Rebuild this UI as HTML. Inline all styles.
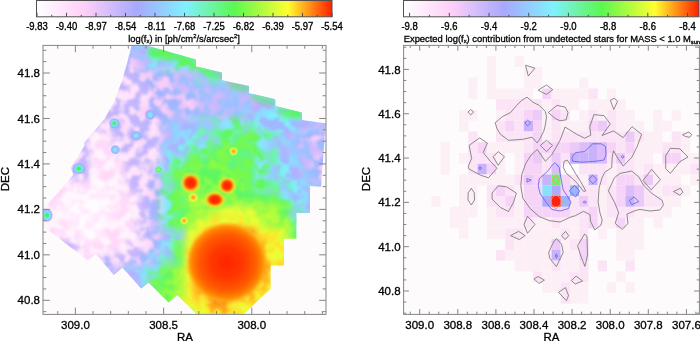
<!DOCTYPE html>
<html><head><meta charset="utf-8"><title>Figure</title>
<style>html,body{margin:0;padding:0;background:#fff;width:700px;height:341px;overflow:hidden}svg{display:block}</style>
</head><body>
<svg width="700" height="341" viewBox="0 0 700 341" font-family="Liberation Sans, Arial, Helvetica, sans-serif">
<defs><linearGradient id="ct" x1="0" x2="1" y1="0" y2="0"><stop offset="0" stop-color="#ffffff"/><stop offset="0.16" stop-color="#ffd0f8"/><stop offset="0.34" stop-color="#a8a8ff"/><stop offset="0.505" stop-color="#80f0ff"/><stop offset="0.67" stop-color="#5af850"/><stop offset="0.85" stop-color="#ffff30"/><stop offset="1.0" stop-color="#ff2000"/></linearGradient></defs>
<style>text{stroke:#000;stroke-width:0.3px}</style>
<rect x="0" y="0" width="700" height="341" fill="#ffffff"/>
<rect x="36.5" y="0.5" width="295.5" height="16.3" fill="url(#ct)" stroke="#505050" stroke-width="1"/>
<line x1="37.0" y1="16.8" x2="37.0" y2="12.8" stroke="#505050" stroke-width="1"/>
<line x1="66.5" y1="16.8" x2="66.5" y2="12.8" stroke="#505050" stroke-width="1"/>
<line x1="96.0" y1="16.8" x2="96.0" y2="12.8" stroke="#505050" stroke-width="1"/>
<line x1="125.5" y1="16.8" x2="125.5" y2="12.8" stroke="#505050" stroke-width="1"/>
<line x1="155.0" y1="16.8" x2="155.0" y2="12.8" stroke="#505050" stroke-width="1"/>
<line x1="184.5" y1="16.8" x2="184.5" y2="12.8" stroke="#505050" stroke-width="1"/>
<line x1="214.0" y1="16.8" x2="214.0" y2="12.8" stroke="#505050" stroke-width="1"/>
<line x1="243.5" y1="16.8" x2="243.5" y2="12.8" stroke="#505050" stroke-width="1"/>
<line x1="273.0" y1="16.8" x2="273.0" y2="12.8" stroke="#505050" stroke-width="1"/>
<line x1="302.5" y1="16.8" x2="302.5" y2="12.8" stroke="#505050" stroke-width="1"/>
<line x1="332.0" y1="16.8" x2="332.0" y2="12.8" stroke="#505050" stroke-width="1"/>
<line x1="51.75" y1="16.8" x2="51.75" y2="14.8" stroke="#505050" stroke-width="1"/>
<line x1="81.25" y1="16.8" x2="81.25" y2="14.8" stroke="#505050" stroke-width="1"/>
<line x1="110.75" y1="16.8" x2="110.75" y2="14.8" stroke="#505050" stroke-width="1"/>
<line x1="140.25" y1="16.8" x2="140.25" y2="14.8" stroke="#505050" stroke-width="1"/>
<line x1="169.75" y1="16.8" x2="169.75" y2="14.8" stroke="#505050" stroke-width="1"/>
<line x1="199.25" y1="16.8" x2="199.25" y2="14.8" stroke="#505050" stroke-width="1"/>
<line x1="228.75" y1="16.8" x2="228.75" y2="14.8" stroke="#505050" stroke-width="1"/>
<line x1="258.25" y1="16.8" x2="258.25" y2="14.8" stroke="#505050" stroke-width="1"/>
<line x1="287.75" y1="16.8" x2="287.75" y2="14.8" stroke="#505050" stroke-width="1"/>
<line x1="317.25" y1="16.8" x2="317.25" y2="14.8" stroke="#505050" stroke-width="1"/>
<text transform="translate(37.0,29.5) scale(1,1.2)" font-size="9.5" text-anchor="middle" fill="#000">-9.83</text>
<text transform="translate(66.5,29.5) scale(1,1.2)" font-size="9.5" text-anchor="middle" fill="#000">-9.40</text>
<text transform="translate(96.0,29.5) scale(1,1.2)" font-size="9.5" text-anchor="middle" fill="#000">-8.97</text>
<text transform="translate(125.5,29.5) scale(1,1.2)" font-size="9.5" text-anchor="middle" fill="#000">-8.54</text>
<text transform="translate(155.0,29.5) scale(1,1.2)" font-size="9.5" text-anchor="middle" fill="#000">-8.11</text>
<text transform="translate(184.5,29.5) scale(1,1.2)" font-size="9.5" text-anchor="middle" fill="#000">-7.68</text>
<text transform="translate(214.0,29.5) scale(1,1.2)" font-size="9.5" text-anchor="middle" fill="#000">-7.25</text>
<text transform="translate(243.5,29.5) scale(1,1.2)" font-size="9.5" text-anchor="middle" fill="#000">-6.82</text>
<text transform="translate(273.0,29.5) scale(1,1.2)" font-size="9.5" text-anchor="middle" fill="#000">-6.39</text>
<text transform="translate(302.5,29.5) scale(1,1.2)" font-size="9.5" text-anchor="middle" fill="#000">-5.97</text>
<text transform="translate(332.0,29.5) scale(1,1.2)" font-size="9.5" text-anchor="middle" fill="#000">-5.54</text>
<rect x="403.5" y="0.5" width="295.5" height="16.3" fill="url(#ct)" stroke="#505050" stroke-width="1"/>
<line x1="409.6" y1="16.8" x2="409.6" y2="12.8" stroke="#505050" stroke-width="1"/>
<line x1="449.3" y1="16.8" x2="449.3" y2="12.8" stroke="#505050" stroke-width="1"/>
<line x1="489.0" y1="16.8" x2="489.0" y2="12.8" stroke="#505050" stroke-width="1"/>
<line x1="528.7" y1="16.8" x2="528.7" y2="12.8" stroke="#505050" stroke-width="1"/>
<line x1="568.4000000000001" y1="16.8" x2="568.4000000000001" y2="12.8" stroke="#505050" stroke-width="1"/>
<line x1="608.1" y1="16.8" x2="608.1" y2="12.8" stroke="#505050" stroke-width="1"/>
<line x1="647.8000000000001" y1="16.8" x2="647.8000000000001" y2="12.8" stroke="#505050" stroke-width="1"/>
<line x1="687.5" y1="16.8" x2="687.5" y2="12.8" stroke="#505050" stroke-width="1"/>
<line x1="429.45000000000005" y1="16.8" x2="429.45000000000005" y2="14.8" stroke="#505050" stroke-width="1"/>
<line x1="469.15000000000003" y1="16.8" x2="469.15000000000003" y2="14.8" stroke="#505050" stroke-width="1"/>
<line x1="508.85" y1="16.8" x2="508.85" y2="14.8" stroke="#505050" stroke-width="1"/>
<line x1="548.5500000000001" y1="16.8" x2="548.5500000000001" y2="14.8" stroke="#505050" stroke-width="1"/>
<line x1="588.2500000000001" y1="16.8" x2="588.2500000000001" y2="14.8" stroke="#505050" stroke-width="1"/>
<line x1="627.95" y1="16.8" x2="627.95" y2="14.8" stroke="#505050" stroke-width="1"/>
<line x1="667.6500000000001" y1="16.8" x2="667.6500000000001" y2="14.8" stroke="#505050" stroke-width="1"/>
<text transform="translate(409.6,29.5) scale(1,1.2)" font-size="9.5" text-anchor="middle" fill="#000">-9.8</text>
<text transform="translate(449.3,29.5) scale(1,1.2)" font-size="9.5" text-anchor="middle" fill="#000">-9.6</text>
<text transform="translate(489.0,29.5) scale(1,1.2)" font-size="9.5" text-anchor="middle" fill="#000">-9.4</text>
<text transform="translate(528.7,29.5) scale(1,1.2)" font-size="9.5" text-anchor="middle" fill="#000">-9.2</text>
<text transform="translate(568.4000000000001,29.5) scale(1,1.2)" font-size="9.5" text-anchor="middle" fill="#000">-9.0</text>
<text transform="translate(608.1,29.5) scale(1,1.2)" font-size="9.5" text-anchor="middle" fill="#000">-8.8</text>
<text transform="translate(647.8000000000001,29.5) scale(1,1.2)" font-size="9.5" text-anchor="middle" fill="#000">-8.6</text>
<text transform="translate(687.5,29.5) scale(1,1.2)" font-size="9.5" text-anchor="middle" fill="#000">-8.4</text>
<text x="184" y="41.5" font-size="9.4" text-anchor="middle">log(f<tspan font-size="5.8" dy="1.8">x</tspan><tspan dy="-1.8">) in [ph/cm</tspan><tspan font-size="5.8" dy="-3.6">2</tspan><tspan dy="3.6">/s/arcsec</tspan><tspan font-size="5.8" dy="-3.6">2</tspan><tspan dy="3.6">]</tspan></text>
<text x="403.7" y="41.5" font-size="9.4">Expected log(f<tspan font-size="5.8" dy="1.8">x</tspan><tspan dy="-1.8">) contribution from undetected stars for MASS &lt; 1.0 M</tspan><tspan font-size="5.8" dy="2.2">sun</tspan></text>
<defs><clipPath id="lfoot"><polygon points="131.6,45.4 146.7,45.4 195.9,59.5 195.9,66.5 222,72.6 222,80.3 249,86 249,93.2 275.3,99.2 275.3,106 302,112.6 302,119.9 326,123.5 325.5,126 321,186.5 310,186 310,213 296.4,213 296.4,238.7 284,238.7 284,265.5 270.6,265.5 270.6,288.5 243.5,314.4 197,314.4 177.3,294.9 168.6,302.4 148.6,282.4 141.2,288.6 122.4,267.4 113.7,274.9 95.8,253.9 87.9,260.5 43,226 43,209 57.5,193.2 73.4,174.7 70.7,168 84.7,145.6 83.9,143 95,130 104.5,119 115,100 121.5,82 127.5,62"/></clipPath><clipPath id="lplot"><rect x="43.0" y="45.4" width="283.0" height="269.0"/></clipPath>
<filter id="lblur" x="-10%" y="-10%" width="120%" height="120%" color-interpolation-filters="sRGB"><feGaussianBlur stdDeviation="3.5"/></filter>
<filter id="mott" x="-10%" y="-10%" width="120%" height="120%" color-interpolation-filters="sRGB"><feGaussianBlur in="SourceGraphic" stdDeviation="3.5" result="b"/><feTurbulence type="fractalNoise" baseFrequency="0.1" numOctaves="2" seed="7" result="n"/><feColorMatrix in="n" type="matrix" values="0 0 0 0 0  0 0 0 0 0  0 0 0 0 0  5.5 0 0 0 -2.25" result="m0"/><feGaussianBlur in="m0" stdDeviation="0.8" result="m"/><feComposite in="b" in2="m" operator="in"/></filter>
<radialGradient id="rblob" cx="0.5" cy="0.5" r="0.5"><stop offset="0" stop-color="#ff2400"/><stop offset="0.4" stop-color="#ff3800"/><stop offset="0.72" stop-color="#ff5c00"/><stop offset="0.88" stop-color="#ff8400"/><stop offset="0.95" stop-color="#ffa810"/><stop offset="1" stop-color="#ffd030" stop-opacity="0.3"/></radialGradient><filter id="sblur" x="-20%" y="-20%" width="140%" height="140%"><feGaussianBlur stdDeviation="1.5"/></filter><filter id="sblur2" x="-20%" y="-50%" width="140%" height="200%"><feGaussianBlur stdDeviation="2"/></filter>
<radialGradient id="rspot" cx="0.5" cy="0.5" r="0.5"><stop offset="0" stop-color="#ff2000"/><stop offset="0.35" stop-color="#ff3000"/><stop offset="0.5" stop-color="#ff6000"/><stop offset="0.7" stop-color="#ffc020" stop-opacity="0.85"/><stop offset="1" stop-color="#f0ff40" stop-opacity="0"/></radialGradient>
<radialGradient id="gspot" cx="0.5" cy="0.5" r="0.5"><stop offset="0" stop-color="#40f050"/><stop offset="0.45" stop-color="#50f080"/><stop offset="0.75" stop-color="#80e8ff" stop-opacity="0.8"/><stop offset="1" stop-color="#a0a8ff" stop-opacity="0"/></radialGradient>
<radialGradient id="cspot" cx="0.5" cy="0.5" r="0.5"><stop offset="0" stop-color="#70f0e0"/><stop offset="0.5" stop-color="#80e0ff"/><stop offset="1" stop-color="#a0a8ff" stop-opacity="0"/></radialGradient>
<radialGradient id="yspot" cx="0.5" cy="0.5" r="0.5"><stop offset="0" stop-color="#ff9020"/><stop offset="0.3" stop-color="#ffc030"/><stop offset="0.6" stop-color="#f8f840" stop-opacity="0.8"/><stop offset="1" stop-color="#e0ff40" stop-opacity="0"/></radialGradient>
<radialGradient id="spotG"><stop offset="0" stop-color="#40f040"/><stop offset="0.3" stop-color="#58f090"/><stop offset="0.55" stop-color="#80e0ff"/><stop offset="0.8" stop-color="#a0a8ff" stop-opacity="0.9"/><stop offset="1" stop-color="#a8a8ff" stop-opacity="0"/></radialGradient>
<radialGradient id="spotC"><stop offset="0" stop-color="#80f0f0"/><stop offset="0.4" stop-color="#88d8ff"/><stop offset="0.75" stop-color="#a0a8ff" stop-opacity="0.9"/><stop offset="1" stop-color="#a8a8ff" stop-opacity="0"/></radialGradient>
<radialGradient id="spotY"><stop offset="0" stop-color="#e0ff40"/><stop offset="0.35" stop-color="#60f060"/><stop offset="0.7" stop-color="#80e8f0" stop-opacity="0.8"/><stop offset="1" stop-color="#80e8f0" stop-opacity="0"/></radialGradient>
</defs>
<rect x="43.0" y="45.4" width="283.0" height="269.0" fill="#fefbfc"/>
<g clip-path="url(#lfoot)"><g clip-path="url(#lplot)">
<g filter="url(#lblur)">
<rect x="31.0" y="33.4" width="24.1" height="24.5" fill="rgb(204, 185, 252)"/>
<rect x="54.8" y="33.4" width="12.1" height="24.5" fill="rgb(204, 185, 252)"/>
<rect x="66.6" y="33.4" width="12.1" height="24.5" fill="rgb(204, 185, 252)"/>
<rect x="78.4" y="33.4" width="12.1" height="24.5" fill="rgb(204, 185, 252)"/>
<rect x="90.2" y="33.4" width="12.1" height="24.5" fill="rgb(204, 185, 252)"/>
<rect x="102.0" y="33.4" width="12.1" height="24.5" fill="rgb(204, 185, 252)"/>
<rect x="113.8" y="33.4" width="12.1" height="24.5" fill="rgb(204, 185, 252)"/>
<rect x="125.5" y="33.4" width="12.1" height="24.5" fill="rgb(204, 185, 252)"/>
<rect x="137.3" y="33.4" width="12.1" height="24.5" fill="rgb(180, 174, 254)"/>
<rect x="149.1" y="33.4" width="12.1" height="24.5" fill="rgb(133, 231, 255)"/>
<rect x="160.9" y="33.4" width="12.1" height="24.5" fill="rgb(99, 246, 122)"/>
<rect x="172.7" y="33.4" width="12.1" height="24.5" fill="rgb(99, 246, 122)"/>
<rect x="184.5" y="33.4" width="12.1" height="24.5" fill="rgb(99, 246, 122)"/>
<rect x="196.3" y="33.4" width="12.1" height="24.5" fill="rgb(99, 246, 122)"/>
<rect x="208.1" y="33.4" width="12.1" height="24.5" fill="rgb(150, 201, 255)"/>
<rect x="219.9" y="33.4" width="12.1" height="24.5" fill="rgb(160, 183, 255)"/>
<rect x="231.7" y="33.4" width="12.1" height="24.5" fill="rgb(160, 183, 255)"/>
<rect x="243.5" y="33.4" width="12.1" height="24.5" fill="rgb(160, 183, 255)"/>
<rect x="255.2" y="33.4" width="12.1" height="24.5" fill="rgb(150, 201, 255)"/>
<rect x="267.0" y="33.4" width="12.1" height="24.5" fill="rgb(133, 231, 255)"/>
<rect x="278.8" y="33.4" width="12.1" height="24.5" fill="rgb(150, 201, 255)"/>
<rect x="290.6" y="33.4" width="12.1" height="24.5" fill="rgb(133, 231, 255)"/>
<rect x="302.4" y="33.4" width="12.1" height="24.5" fill="rgb(133, 231, 255)"/>
<rect x="314.2" y="33.4" width="24.1" height="24.5" fill="rgb(204, 185, 252)"/>
<rect x="31.0" y="57.6" width="24.1" height="12.5" fill="rgb(255, 227, 251)"/>
<rect x="54.8" y="57.6" width="12.1" height="12.5" fill="rgb(255, 227, 251)"/>
<rect x="66.6" y="57.6" width="12.1" height="12.5" fill="rgb(255, 227, 251)"/>
<rect x="78.4" y="57.6" width="12.1" height="12.5" fill="rgb(255, 227, 251)"/>
<rect x="90.2" y="57.6" width="12.1" height="12.5" fill="rgb(255, 227, 251)"/>
<rect x="102.0" y="57.6" width="12.1" height="12.5" fill="rgb(255, 227, 251)"/>
<rect x="113.8" y="57.6" width="12.1" height="12.5" fill="rgb(255, 227, 251)"/>
<rect x="125.5" y="57.6" width="12.1" height="12.5" fill="rgb(248, 205, 249)"/>
<rect x="137.3" y="57.6" width="12.1" height="12.5" fill="rgb(204, 185, 252)"/>
<rect x="149.1" y="57.6" width="12.1" height="12.5" fill="rgb(160, 183, 255)"/>
<rect x="160.9" y="57.6" width="12.1" height="12.5" fill="rgb(150, 201, 255)"/>
<rect x="172.7" y="57.6" width="12.1" height="12.5" fill="rgb(133, 231, 255)"/>
<rect x="184.5" y="57.6" width="12.1" height="12.5" fill="rgb(133, 231, 255)"/>
<rect x="196.3" y="57.6" width="12.1" height="12.5" fill="rgb(99, 246, 122)"/>
<rect x="208.1" y="57.6" width="12.1" height="12.5" fill="rgb(150, 201, 255)"/>
<rect x="219.9" y="57.6" width="12.1" height="12.5" fill="rgb(160, 183, 255)"/>
<rect x="231.7" y="57.6" width="12.1" height="12.5" fill="rgb(160, 183, 255)"/>
<rect x="243.5" y="57.6" width="12.1" height="12.5" fill="rgb(160, 183, 255)"/>
<rect x="255.2" y="57.6" width="12.1" height="12.5" fill="rgb(150, 201, 255)"/>
<rect x="267.0" y="57.6" width="12.1" height="12.5" fill="rgb(133, 231, 255)"/>
<rect x="278.8" y="57.6" width="12.1" height="12.5" fill="rgb(150, 201, 255)"/>
<rect x="290.6" y="57.6" width="12.1" height="12.5" fill="rgb(133, 231, 255)"/>
<rect x="302.4" y="57.6" width="12.1" height="12.5" fill="rgb(133, 231, 255)"/>
<rect x="314.2" y="57.6" width="24.1" height="12.5" fill="rgb(204, 185, 252)"/>
<rect x="31.0" y="69.9" width="24.1" height="12.5" fill="rgb(255, 227, 251)"/>
<rect x="54.8" y="69.9" width="12.1" height="12.5" fill="rgb(255, 227, 251)"/>
<rect x="66.6" y="69.9" width="12.1" height="12.5" fill="rgb(255, 227, 251)"/>
<rect x="78.4" y="69.9" width="12.1" height="12.5" fill="rgb(255, 227, 251)"/>
<rect x="90.2" y="69.9" width="12.1" height="12.5" fill="rgb(255, 227, 251)"/>
<rect x="102.0" y="69.9" width="12.1" height="12.5" fill="rgb(255, 227, 251)"/>
<rect x="113.8" y="69.9" width="12.1" height="12.5" fill="rgb(255, 227, 251)"/>
<rect x="125.5" y="69.9" width="12.1" height="12.5" fill="rgb(255, 227, 251)"/>
<rect x="137.3" y="69.9" width="12.1" height="12.5" fill="rgb(248, 205, 249)"/>
<rect x="149.1" y="69.9" width="12.1" height="12.5" fill="rgb(248, 205, 249)"/>
<rect x="160.9" y="69.9" width="12.1" height="12.5" fill="rgb(248, 205, 249)"/>
<rect x="172.7" y="69.9" width="12.1" height="12.5" fill="rgb(204, 185, 252)"/>
<rect x="184.5" y="69.9" width="12.1" height="12.5" fill="rgb(204, 185, 252)"/>
<rect x="196.3" y="69.9" width="12.1" height="12.5" fill="rgb(150, 201, 255)"/>
<rect x="208.1" y="69.9" width="12.1" height="12.5" fill="rgb(150, 201, 255)"/>
<rect x="219.9" y="69.9" width="12.1" height="12.5" fill="rgb(160, 183, 255)"/>
<rect x="231.7" y="69.9" width="12.1" height="12.5" fill="rgb(160, 183, 255)"/>
<rect x="243.5" y="69.9" width="12.1" height="12.5" fill="rgb(160, 183, 255)"/>
<rect x="255.2" y="69.9" width="12.1" height="12.5" fill="rgb(150, 201, 255)"/>
<rect x="267.0" y="69.9" width="12.1" height="12.5" fill="rgb(133, 231, 255)"/>
<rect x="278.8" y="69.9" width="12.1" height="12.5" fill="rgb(150, 201, 255)"/>
<rect x="290.6" y="69.9" width="12.1" height="12.5" fill="rgb(133, 231, 255)"/>
<rect x="302.4" y="69.9" width="12.1" height="12.5" fill="rgb(133, 231, 255)"/>
<rect x="314.2" y="69.9" width="24.1" height="12.5" fill="rgb(204, 185, 252)"/>
<rect x="31.0" y="82.1" width="24.1" height="12.5" fill="rgb(255, 227, 251)"/>
<rect x="54.8" y="82.1" width="12.1" height="12.5" fill="rgb(255, 227, 251)"/>
<rect x="66.6" y="82.1" width="12.1" height="12.5" fill="rgb(255, 227, 251)"/>
<rect x="78.4" y="82.1" width="12.1" height="12.5" fill="rgb(255, 227, 251)"/>
<rect x="90.2" y="82.1" width="12.1" height="12.5" fill="rgb(255, 227, 251)"/>
<rect x="102.0" y="82.1" width="12.1" height="12.5" fill="rgb(255, 227, 251)"/>
<rect x="113.8" y="82.1" width="12.1" height="12.5" fill="rgb(255, 227, 251)"/>
<rect x="125.5" y="82.1" width="12.1" height="12.5" fill="rgb(255, 227, 251)"/>
<rect x="137.3" y="82.1" width="12.1" height="12.5" fill="rgb(255, 227, 251)"/>
<rect x="149.1" y="82.1" width="12.1" height="12.5" fill="rgb(248, 205, 249)"/>
<rect x="160.9" y="82.1" width="12.1" height="12.5" fill="rgb(248, 205, 249)"/>
<rect x="172.7" y="82.1" width="12.1" height="12.5" fill="rgb(204, 185, 252)"/>
<rect x="184.5" y="82.1" width="12.1" height="12.5" fill="rgb(204, 185, 252)"/>
<rect x="196.3" y="82.1" width="12.1" height="12.5" fill="rgb(204, 185, 252)"/>
<rect x="208.1" y="82.1" width="12.1" height="12.5" fill="rgb(204, 185, 252)"/>
<rect x="219.9" y="82.1" width="12.1" height="12.5" fill="rgb(204, 185, 252)"/>
<rect x="231.7" y="82.1" width="12.1" height="12.5" fill="rgb(180, 174, 254)"/>
<rect x="243.5" y="82.1" width="12.1" height="12.5" fill="rgb(160, 183, 255)"/>
<rect x="255.2" y="82.1" width="12.1" height="12.5" fill="rgb(150, 201, 255)"/>
<rect x="267.0" y="82.1" width="12.1" height="12.5" fill="rgb(133, 231, 255)"/>
<rect x="278.8" y="82.1" width="12.1" height="12.5" fill="rgb(150, 201, 255)"/>
<rect x="290.6" y="82.1" width="12.1" height="12.5" fill="rgb(133, 231, 255)"/>
<rect x="302.4" y="82.1" width="12.1" height="12.5" fill="rgb(133, 231, 255)"/>
<rect x="314.2" y="82.1" width="24.1" height="12.5" fill="rgb(204, 185, 252)"/>
<rect x="31.0" y="94.3" width="24.1" height="12.5" fill="rgb(255, 227, 251)"/>
<rect x="54.8" y="94.3" width="12.1" height="12.5" fill="rgb(255, 227, 251)"/>
<rect x="66.6" y="94.3" width="12.1" height="12.5" fill="rgb(255, 227, 251)"/>
<rect x="78.4" y="94.3" width="12.1" height="12.5" fill="rgb(255, 227, 251)"/>
<rect x="90.2" y="94.3" width="12.1" height="12.5" fill="rgb(255, 227, 251)"/>
<rect x="102.0" y="94.3" width="12.1" height="12.5" fill="rgb(255, 227, 251)"/>
<rect x="113.8" y="94.3" width="12.1" height="12.5" fill="rgb(255, 227, 251)"/>
<rect x="125.5" y="94.3" width="12.1" height="12.5" fill="rgb(255, 227, 251)"/>
<rect x="137.3" y="94.3" width="12.1" height="12.5" fill="rgb(255, 227, 251)"/>
<rect x="149.1" y="94.3" width="12.1" height="12.5" fill="rgb(248, 205, 249)"/>
<rect x="160.9" y="94.3" width="12.1" height="12.5" fill="rgb(248, 205, 249)"/>
<rect x="172.7" y="94.3" width="12.1" height="12.5" fill="rgb(248, 205, 249)"/>
<rect x="184.5" y="94.3" width="12.1" height="12.5" fill="rgb(248, 205, 249)"/>
<rect x="196.3" y="94.3" width="12.1" height="12.5" fill="rgb(204, 185, 252)"/>
<rect x="208.1" y="94.3" width="12.1" height="12.5" fill="rgb(204, 185, 252)"/>
<rect x="219.9" y="94.3" width="12.1" height="12.5" fill="rgb(204, 185, 252)"/>
<rect x="231.7" y="94.3" width="12.1" height="12.5" fill="rgb(204, 185, 252)"/>
<rect x="243.5" y="94.3" width="12.1" height="12.5" fill="rgb(204, 185, 252)"/>
<rect x="255.2" y="94.3" width="12.1" height="12.5" fill="rgb(180, 174, 254)"/>
<rect x="267.0" y="94.3" width="12.1" height="12.5" fill="rgb(160, 183, 255)"/>
<rect x="278.8" y="94.3" width="12.1" height="12.5" fill="rgb(150, 201, 255)"/>
<rect x="290.6" y="94.3" width="12.1" height="12.5" fill="rgb(133, 231, 255)"/>
<rect x="302.4" y="94.3" width="12.1" height="12.5" fill="rgb(133, 231, 255)"/>
<rect x="314.2" y="94.3" width="24.1" height="12.5" fill="rgb(204, 185, 252)"/>
<rect x="31.0" y="106.5" width="24.1" height="12.5" fill="rgb(255, 227, 251)"/>
<rect x="54.8" y="106.5" width="12.1" height="12.5" fill="rgb(255, 227, 251)"/>
<rect x="66.6" y="106.5" width="12.1" height="12.5" fill="rgb(255, 227, 251)"/>
<rect x="78.4" y="106.5" width="12.1" height="12.5" fill="rgb(255, 227, 251)"/>
<rect x="90.2" y="106.5" width="12.1" height="12.5" fill="rgb(255, 227, 251)"/>
<rect x="102.0" y="106.5" width="12.1" height="12.5" fill="rgb(255, 227, 251)"/>
<rect x="113.8" y="106.5" width="12.1" height="12.5" fill="rgb(255, 227, 251)"/>
<rect x="125.5" y="106.5" width="12.1" height="12.5" fill="rgb(255, 227, 251)"/>
<rect x="137.3" y="106.5" width="12.1" height="12.5" fill="rgb(248, 205, 249)"/>
<rect x="149.1" y="106.5" width="12.1" height="12.5" fill="rgb(248, 205, 249)"/>
<rect x="160.9" y="106.5" width="12.1" height="12.5" fill="rgb(248, 205, 249)"/>
<rect x="172.7" y="106.5" width="12.1" height="12.5" fill="rgb(204, 185, 252)"/>
<rect x="184.5" y="106.5" width="12.1" height="12.5" fill="rgb(248, 205, 249)"/>
<rect x="196.3" y="106.5" width="12.1" height="12.5" fill="rgb(204, 185, 252)"/>
<rect x="208.1" y="106.5" width="12.1" height="12.5" fill="rgb(204, 185, 252)"/>
<rect x="219.9" y="106.5" width="12.1" height="12.5" fill="rgb(204, 185, 252)"/>
<rect x="231.7" y="106.5" width="12.1" height="12.5" fill="rgb(204, 185, 252)"/>
<rect x="243.5" y="106.5" width="12.1" height="12.5" fill="rgb(180, 174, 254)"/>
<rect x="255.2" y="106.5" width="12.1" height="12.5" fill="rgb(180, 174, 254)"/>
<rect x="267.0" y="106.5" width="12.1" height="12.5" fill="rgb(160, 183, 255)"/>
<rect x="278.8" y="106.5" width="12.1" height="12.5" fill="rgb(150, 201, 255)"/>
<rect x="290.6" y="106.5" width="12.1" height="12.5" fill="rgb(133, 231, 255)"/>
<rect x="302.4" y="106.5" width="12.1" height="12.5" fill="rgb(180, 174, 254)"/>
<rect x="314.2" y="106.5" width="24.1" height="12.5" fill="rgb(204, 185, 252)"/>
<rect x="31.0" y="118.8" width="24.1" height="12.5" fill="rgb(255, 227, 251)"/>
<rect x="54.8" y="118.8" width="12.1" height="12.5" fill="rgb(255, 227, 251)"/>
<rect x="66.6" y="118.8" width="12.1" height="12.5" fill="rgb(255, 227, 251)"/>
<rect x="78.4" y="118.8" width="12.1" height="12.5" fill="rgb(255, 227, 251)"/>
<rect x="90.2" y="118.8" width="12.1" height="12.5" fill="rgb(255, 227, 251)"/>
<rect x="102.0" y="118.8" width="12.1" height="12.5" fill="rgb(255, 227, 251)"/>
<rect x="113.8" y="118.8" width="12.1" height="12.5" fill="rgb(248, 205, 249)"/>
<rect x="125.5" y="118.8" width="12.1" height="12.5" fill="rgb(255, 227, 251)"/>
<rect x="137.3" y="118.8" width="12.1" height="12.5" fill="rgb(255, 227, 251)"/>
<rect x="149.1" y="118.8" width="12.1" height="12.5" fill="rgb(255, 227, 251)"/>
<rect x="160.9" y="118.8" width="12.1" height="12.5" fill="rgb(204, 185, 252)"/>
<rect x="172.7" y="118.8" width="12.1" height="12.5" fill="rgb(180, 174, 254)"/>
<rect x="184.5" y="118.8" width="12.1" height="12.5" fill="rgb(160, 183, 255)"/>
<rect x="196.3" y="118.8" width="12.1" height="12.5" fill="rgb(150, 201, 255)"/>
<rect x="208.1" y="118.8" width="12.1" height="12.5" fill="rgb(150, 201, 255)"/>
<rect x="219.9" y="118.8" width="12.1" height="12.5" fill="rgb(133, 231, 255)"/>
<rect x="231.7" y="118.8" width="12.1" height="12.5" fill="rgb(133, 231, 255)"/>
<rect x="243.5" y="118.8" width="12.1" height="12.5" fill="rgb(150, 201, 255)"/>
<rect x="255.2" y="118.8" width="12.1" height="12.5" fill="rgb(160, 183, 255)"/>
<rect x="267.0" y="118.8" width="12.1" height="12.5" fill="rgb(160, 183, 255)"/>
<rect x="278.8" y="118.8" width="12.1" height="12.5" fill="rgb(160, 183, 255)"/>
<rect x="290.6" y="118.8" width="12.1" height="12.5" fill="rgb(160, 183, 255)"/>
<rect x="302.4" y="118.8" width="12.1" height="12.5" fill="rgb(180, 174, 254)"/>
<rect x="314.2" y="118.8" width="24.1" height="12.5" fill="rgb(204, 185, 252)"/>
<rect x="31.0" y="131.0" width="24.1" height="12.5" fill="rgb(255, 227, 251)"/>
<rect x="54.8" y="131.0" width="12.1" height="12.5" fill="rgb(255, 227, 251)"/>
<rect x="66.6" y="131.0" width="12.1" height="12.5" fill="rgb(255, 227, 251)"/>
<rect x="78.4" y="131.0" width="12.1" height="12.5" fill="rgb(255, 227, 251)"/>
<rect x="90.2" y="131.0" width="12.1" height="12.5" fill="rgb(255, 243, 253)"/>
<rect x="102.0" y="131.0" width="12.1" height="12.5" fill="rgb(255, 243, 253)"/>
<rect x="113.8" y="131.0" width="12.1" height="12.5" fill="rgb(255, 227, 251)"/>
<rect x="125.5" y="131.0" width="12.1" height="12.5" fill="rgb(255, 227, 251)"/>
<rect x="137.3" y="131.0" width="12.1" height="12.5" fill="rgb(248, 205, 249)"/>
<rect x="149.1" y="131.0" width="12.1" height="12.5" fill="rgb(255, 227, 251)"/>
<rect x="160.9" y="131.0" width="12.1" height="12.5" fill="rgb(204, 185, 252)"/>
<rect x="172.7" y="131.0" width="12.1" height="12.5" fill="rgb(180, 174, 254)"/>
<rect x="184.5" y="131.0" width="12.1" height="12.5" fill="rgb(160, 183, 255)"/>
<rect x="196.3" y="131.0" width="12.1" height="12.5" fill="rgb(150, 201, 255)"/>
<rect x="208.1" y="131.0" width="12.1" height="12.5" fill="rgb(150, 201, 255)"/>
<rect x="219.9" y="131.0" width="12.1" height="12.5" fill="rgb(133, 231, 255)"/>
<rect x="231.7" y="131.0" width="12.1" height="12.5" fill="rgb(99, 246, 122)"/>
<rect x="243.5" y="131.0" width="12.1" height="12.5" fill="rgb(99, 246, 122)"/>
<rect x="255.2" y="131.0" width="12.1" height="12.5" fill="rgb(133, 231, 255)"/>
<rect x="267.0" y="131.0" width="12.1" height="12.5" fill="rgb(150, 201, 255)"/>
<rect x="278.8" y="131.0" width="12.1" height="12.5" fill="rgb(180, 174, 254)"/>
<rect x="290.6" y="131.0" width="12.1" height="12.5" fill="rgb(204, 185, 252)"/>
<rect x="302.4" y="131.0" width="12.1" height="12.5" fill="rgb(248, 205, 249)"/>
<rect x="314.2" y="131.0" width="24.1" height="12.5" fill="rgb(248, 205, 249)"/>
<rect x="31.0" y="143.2" width="24.1" height="12.5" fill="rgb(255, 227, 251)"/>
<rect x="54.8" y="143.2" width="12.1" height="12.5" fill="rgb(255, 227, 251)"/>
<rect x="66.6" y="143.2" width="12.1" height="12.5" fill="rgb(255, 227, 251)"/>
<rect x="78.4" y="143.2" width="12.1" height="12.5" fill="rgb(255, 227, 251)"/>
<rect x="90.2" y="143.2" width="12.1" height="12.5" fill="rgb(255, 243, 253)"/>
<rect x="102.0" y="143.2" width="12.1" height="12.5" fill="rgb(255, 243, 253)"/>
<rect x="113.8" y="143.2" width="12.1" height="12.5" fill="rgb(255, 227, 251)"/>
<rect x="125.5" y="143.2" width="12.1" height="12.5" fill="rgb(255, 227, 251)"/>
<rect x="137.3" y="143.2" width="12.1" height="12.5" fill="rgb(255, 227, 251)"/>
<rect x="149.1" y="143.2" width="12.1" height="12.5" fill="rgb(255, 227, 251)"/>
<rect x="160.9" y="143.2" width="12.1" height="12.5" fill="rgb(180, 174, 254)"/>
<rect x="172.7" y="143.2" width="12.1" height="12.5" fill="rgb(160, 183, 255)"/>
<rect x="184.5" y="143.2" width="12.1" height="12.5" fill="rgb(150, 201, 255)"/>
<rect x="196.3" y="143.2" width="12.1" height="12.5" fill="rgb(133, 231, 255)"/>
<rect x="208.1" y="143.2" width="12.1" height="12.5" fill="rgb(99, 246, 122)"/>
<rect x="219.9" y="143.2" width="12.1" height="12.5" fill="rgb(93, 247, 96)"/>
<rect x="231.7" y="143.2" width="12.1" height="12.5" fill="rgb(99, 246, 122)"/>
<rect x="243.5" y="143.2" width="12.1" height="12.5" fill="rgb(99, 246, 122)"/>
<rect x="255.2" y="143.2" width="12.1" height="12.5" fill="rgb(133, 231, 255)"/>
<rect x="267.0" y="143.2" width="12.1" height="12.5" fill="rgb(150, 201, 255)"/>
<rect x="278.8" y="143.2" width="12.1" height="12.5" fill="rgb(180, 174, 254)"/>
<rect x="290.6" y="143.2" width="12.1" height="12.5" fill="rgb(204, 185, 252)"/>
<rect x="302.4" y="143.2" width="12.1" height="12.5" fill="rgb(204, 185, 252)"/>
<rect x="314.2" y="143.2" width="24.1" height="12.5" fill="rgb(204, 185, 252)"/>
<rect x="31.0" y="155.4" width="24.1" height="12.5" fill="rgb(255, 227, 251)"/>
<rect x="54.8" y="155.4" width="12.1" height="12.5" fill="rgb(255, 227, 251)"/>
<rect x="66.6" y="155.4" width="12.1" height="12.5" fill="rgb(255, 227, 251)"/>
<rect x="78.4" y="155.4" width="12.1" height="12.5" fill="rgb(255, 227, 251)"/>
<rect x="90.2" y="155.4" width="12.1" height="12.5" fill="rgb(255, 243, 253)"/>
<rect x="102.0" y="155.4" width="12.1" height="12.5" fill="rgb(255, 243, 253)"/>
<rect x="113.8" y="155.4" width="12.1" height="12.5" fill="rgb(255, 243, 253)"/>
<rect x="125.5" y="155.4" width="12.1" height="12.5" fill="rgb(255, 227, 251)"/>
<rect x="137.3" y="155.4" width="12.1" height="12.5" fill="rgb(255, 227, 251)"/>
<rect x="149.1" y="155.4" width="12.1" height="12.5" fill="rgb(255, 227, 251)"/>
<rect x="160.9" y="155.4" width="12.1" height="12.5" fill="rgb(160, 183, 255)"/>
<rect x="172.7" y="155.4" width="12.1" height="12.5" fill="rgb(133, 231, 255)"/>
<rect x="184.5" y="155.4" width="12.1" height="12.5" fill="rgb(99, 246, 122)"/>
<rect x="196.3" y="155.4" width="12.1" height="12.5" fill="rgb(99, 246, 122)"/>
<rect x="208.1" y="155.4" width="12.1" height="12.5" fill="rgb(93, 247, 96)"/>
<rect x="219.9" y="155.4" width="12.1" height="12.5" fill="rgb(99, 246, 122)"/>
<rect x="231.7" y="155.4" width="12.1" height="12.5" fill="rgb(99, 246, 122)"/>
<rect x="243.5" y="155.4" width="12.1" height="12.5" fill="rgb(99, 246, 122)"/>
<rect x="255.2" y="155.4" width="12.1" height="12.5" fill="rgb(133, 231, 255)"/>
<rect x="267.0" y="155.4" width="12.1" height="12.5" fill="rgb(150, 201, 255)"/>
<rect x="278.8" y="155.4" width="12.1" height="12.5" fill="rgb(160, 183, 255)"/>
<rect x="290.6" y="155.4" width="12.1" height="12.5" fill="rgb(180, 174, 254)"/>
<rect x="302.4" y="155.4" width="12.1" height="12.5" fill="rgb(204, 185, 252)"/>
<rect x="314.2" y="155.4" width="24.1" height="12.5" fill="rgb(248, 205, 249)"/>
<rect x="31.0" y="167.7" width="24.1" height="12.5" fill="rgb(255, 227, 251)"/>
<rect x="54.8" y="167.7" width="12.1" height="12.5" fill="rgb(255, 227, 251)"/>
<rect x="66.6" y="167.7" width="12.1" height="12.5" fill="rgb(255, 227, 251)"/>
<rect x="78.4" y="167.7" width="12.1" height="12.5" fill="rgb(255, 227, 251)"/>
<rect x="90.2" y="167.7" width="12.1" height="12.5" fill="rgb(255, 243, 253)"/>
<rect x="102.0" y="167.7" width="12.1" height="12.5" fill="rgb(255, 243, 253)"/>
<rect x="113.8" y="167.7" width="12.1" height="12.5" fill="rgb(255, 243, 253)"/>
<rect x="125.5" y="167.7" width="12.1" height="12.5" fill="rgb(255, 227, 251)"/>
<rect x="137.3" y="167.7" width="12.1" height="12.5" fill="rgb(255, 227, 251)"/>
<rect x="149.1" y="167.7" width="12.1" height="12.5" fill="rgb(255, 227, 251)"/>
<rect x="160.9" y="167.7" width="12.1" height="12.5" fill="rgb(150, 201, 255)"/>
<rect x="172.7" y="167.7" width="12.1" height="12.5" fill="rgb(99, 246, 122)"/>
<rect x="184.5" y="167.7" width="12.1" height="12.5" fill="rgb(93, 247, 96)"/>
<rect x="196.3" y="167.7" width="12.1" height="12.5" fill="rgb(93, 247, 96)"/>
<rect x="208.1" y="167.7" width="12.1" height="12.5" fill="rgb(93, 247, 96)"/>
<rect x="219.9" y="167.7" width="12.1" height="12.5" fill="rgb(93, 247, 96)"/>
<rect x="231.7" y="167.7" width="12.1" height="12.5" fill="rgb(99, 246, 122)"/>
<rect x="243.5" y="167.7" width="12.1" height="12.5" fill="rgb(99, 246, 122)"/>
<rect x="255.2" y="167.7" width="12.1" height="12.5" fill="rgb(133, 231, 255)"/>
<rect x="267.0" y="167.7" width="12.1" height="12.5" fill="rgb(150, 201, 255)"/>
<rect x="278.8" y="167.7" width="12.1" height="12.5" fill="rgb(160, 183, 255)"/>
<rect x="290.6" y="167.7" width="12.1" height="12.5" fill="rgb(180, 174, 254)"/>
<rect x="302.4" y="167.7" width="12.1" height="12.5" fill="rgb(204, 185, 252)"/>
<rect x="314.2" y="167.7" width="24.1" height="12.5" fill="rgb(248, 205, 249)"/>
<rect x="31.0" y="179.9" width="24.1" height="12.5" fill="rgb(255, 243, 253)"/>
<rect x="54.8" y="179.9" width="12.1" height="12.5" fill="rgb(255, 243, 253)"/>
<rect x="66.6" y="179.9" width="12.1" height="12.5" fill="rgb(255, 243, 253)"/>
<rect x="78.4" y="179.9" width="12.1" height="12.5" fill="rgb(255, 243, 253)"/>
<rect x="90.2" y="179.9" width="12.1" height="12.5" fill="rgb(255, 252, 255)"/>
<rect x="102.0" y="179.9" width="12.1" height="12.5" fill="rgb(255, 243, 253)"/>
<rect x="113.8" y="179.9" width="12.1" height="12.5" fill="rgb(255, 243, 253)"/>
<rect x="125.5" y="179.9" width="12.1" height="12.5" fill="rgb(255, 227, 251)"/>
<rect x="137.3" y="179.9" width="12.1" height="12.5" fill="rgb(255, 227, 251)"/>
<rect x="149.1" y="179.9" width="12.1" height="12.5" fill="rgb(248, 205, 249)"/>
<rect x="160.9" y="179.9" width="12.1" height="12.5" fill="rgb(150, 201, 255)"/>
<rect x="172.7" y="179.9" width="12.1" height="12.5" fill="rgb(99, 246, 122)"/>
<rect x="184.5" y="179.9" width="12.1" height="12.5" fill="rgb(145, 250, 69)"/>
<rect x="196.3" y="179.9" width="12.1" height="12.5" fill="rgb(93, 247, 96)"/>
<rect x="208.1" y="179.9" width="12.1" height="12.5" fill="rgb(93, 247, 96)"/>
<rect x="219.9" y="179.9" width="12.1" height="12.5" fill="rgb(145, 250, 69)"/>
<rect x="231.7" y="179.9" width="12.1" height="12.5" fill="rgb(93, 247, 96)"/>
<rect x="243.5" y="179.9" width="12.1" height="12.5" fill="rgb(99, 246, 122)"/>
<rect x="255.2" y="179.9" width="12.1" height="12.5" fill="rgb(133, 231, 255)"/>
<rect x="267.0" y="179.9" width="12.1" height="12.5" fill="rgb(150, 201, 255)"/>
<rect x="278.8" y="179.9" width="12.1" height="12.5" fill="rgb(150, 201, 255)"/>
<rect x="290.6" y="179.9" width="12.1" height="12.5" fill="rgb(160, 183, 255)"/>
<rect x="302.4" y="179.9" width="12.1" height="12.5" fill="rgb(180, 174, 254)"/>
<rect x="314.2" y="179.9" width="24.1" height="12.5" fill="rgb(204, 185, 252)"/>
<rect x="31.0" y="192.1" width="24.1" height="12.5" fill="rgb(255, 243, 253)"/>
<rect x="54.8" y="192.1" width="12.1" height="12.5" fill="rgb(255, 243, 253)"/>
<rect x="66.6" y="192.1" width="12.1" height="12.5" fill="rgb(255, 252, 255)"/>
<rect x="78.4" y="192.1" width="12.1" height="12.5" fill="rgb(255, 252, 255)"/>
<rect x="90.2" y="192.1" width="12.1" height="12.5" fill="rgb(255, 252, 255)"/>
<rect x="102.0" y="192.1" width="12.1" height="12.5" fill="rgb(255, 252, 255)"/>
<rect x="113.8" y="192.1" width="12.1" height="12.5" fill="rgb(255, 243, 253)"/>
<rect x="125.5" y="192.1" width="12.1" height="12.5" fill="rgb(255, 243, 253)"/>
<rect x="137.3" y="192.1" width="12.1" height="12.5" fill="rgb(255, 227, 251)"/>
<rect x="149.1" y="192.1" width="12.1" height="12.5" fill="rgb(248, 205, 249)"/>
<rect x="160.9" y="192.1" width="12.1" height="12.5" fill="rgb(133, 231, 255)"/>
<rect x="172.7" y="192.1" width="12.1" height="12.5" fill="rgb(99, 246, 122)"/>
<rect x="184.5" y="192.1" width="12.1" height="12.5" fill="rgb(145, 250, 69)"/>
<rect x="196.3" y="192.1" width="12.1" height="12.5" fill="rgb(145, 250, 69)"/>
<rect x="208.1" y="192.1" width="12.1" height="12.5" fill="rgb(145, 250, 69)"/>
<rect x="219.9" y="192.1" width="12.1" height="12.5" fill="rgb(93, 247, 96)"/>
<rect x="231.7" y="192.1" width="12.1" height="12.5" fill="rgb(93, 247, 96)"/>
<rect x="243.5" y="192.1" width="12.1" height="12.5" fill="rgb(93, 247, 96)"/>
<rect x="255.2" y="192.1" width="12.1" height="12.5" fill="rgb(93, 247, 96)"/>
<rect x="267.0" y="192.1" width="12.1" height="12.5" fill="rgb(99, 246, 122)"/>
<rect x="278.8" y="192.1" width="12.1" height="12.5" fill="rgb(133, 231, 255)"/>
<rect x="290.6" y="192.1" width="12.1" height="12.5" fill="rgb(160, 183, 255)"/>
<rect x="302.4" y="192.1" width="12.1" height="12.5" fill="rgb(180, 174, 254)"/>
<rect x="314.2" y="192.1" width="24.1" height="12.5" fill="rgb(180, 174, 254)"/>
<rect x="31.0" y="204.4" width="24.1" height="12.5" fill="rgb(255, 243, 253)"/>
<rect x="54.8" y="204.4" width="12.1" height="12.5" fill="rgb(255, 252, 255)"/>
<rect x="66.6" y="204.4" width="12.1" height="12.5" fill="rgb(255, 252, 255)"/>
<rect x="78.4" y="204.4" width="12.1" height="12.5" fill="rgb(255, 252, 255)"/>
<rect x="90.2" y="204.4" width="12.1" height="12.5" fill="rgb(255, 252, 255)"/>
<rect x="102.0" y="204.4" width="12.1" height="12.5" fill="rgb(255, 252, 255)"/>
<rect x="113.8" y="204.4" width="12.1" height="12.5" fill="rgb(255, 243, 253)"/>
<rect x="125.5" y="204.4" width="12.1" height="12.5" fill="rgb(255, 243, 253)"/>
<rect x="137.3" y="204.4" width="12.1" height="12.5" fill="rgb(255, 227, 251)"/>
<rect x="149.1" y="204.4" width="12.1" height="12.5" fill="rgb(248, 205, 249)"/>
<rect x="160.9" y="204.4" width="12.1" height="12.5" fill="rgb(133, 231, 255)"/>
<rect x="172.7" y="204.4" width="12.1" height="12.5" fill="rgb(99, 246, 122)"/>
<rect x="184.5" y="204.4" width="12.1" height="12.5" fill="rgb(93, 247, 96)"/>
<rect x="196.3" y="204.4" width="12.1" height="12.5" fill="rgb(145, 250, 69)"/>
<rect x="208.1" y="204.4" width="12.1" height="12.5" fill="rgb(145, 250, 69)"/>
<rect x="219.9" y="204.4" width="12.1" height="12.5" fill="rgb(200, 253, 59)"/>
<rect x="231.7" y="204.4" width="12.1" height="12.5" fill="rgb(200, 253, 59)"/>
<rect x="243.5" y="204.4" width="12.1" height="12.5" fill="rgb(200, 253, 59)"/>
<rect x="255.2" y="204.4" width="12.1" height="12.5" fill="rgb(145, 250, 69)"/>
<rect x="267.0" y="204.4" width="12.1" height="12.5" fill="rgb(145, 250, 69)"/>
<rect x="278.8" y="204.4" width="12.1" height="12.5" fill="rgb(93, 247, 96)"/>
<rect x="290.6" y="204.4" width="12.1" height="12.5" fill="rgb(150, 201, 255)"/>
<rect x="302.4" y="204.4" width="12.1" height="12.5" fill="rgb(180, 174, 254)"/>
<rect x="314.2" y="204.4" width="24.1" height="12.5" fill="rgb(180, 174, 254)"/>
<rect x="31.0" y="216.6" width="24.1" height="12.5" fill="rgb(255, 243, 253)"/>
<rect x="54.8" y="216.6" width="12.1" height="12.5" fill="rgb(255, 243, 253)"/>
<rect x="66.6" y="216.6" width="12.1" height="12.5" fill="rgb(255, 252, 255)"/>
<rect x="78.4" y="216.6" width="12.1" height="12.5" fill="rgb(255, 252, 255)"/>
<rect x="90.2" y="216.6" width="12.1" height="12.5" fill="rgb(255, 252, 255)"/>
<rect x="102.0" y="216.6" width="12.1" height="12.5" fill="rgb(255, 243, 253)"/>
<rect x="113.8" y="216.6" width="12.1" height="12.5" fill="rgb(255, 243, 253)"/>
<rect x="125.5" y="216.6" width="12.1" height="12.5" fill="rgb(255, 243, 253)"/>
<rect x="137.3" y="216.6" width="12.1" height="12.5" fill="rgb(255, 227, 251)"/>
<rect x="149.1" y="216.6" width="12.1" height="12.5" fill="rgb(204, 185, 252)"/>
<rect x="160.9" y="216.6" width="12.1" height="12.5" fill="rgb(133, 231, 255)"/>
<rect x="172.7" y="216.6" width="12.1" height="12.5" fill="rgb(99, 246, 122)"/>
<rect x="184.5" y="216.6" width="12.1" height="12.5" fill="rgb(145, 250, 69)"/>
<rect x="196.3" y="216.6" width="12.1" height="12.5" fill="rgb(200, 253, 59)"/>
<rect x="208.1" y="216.6" width="12.1" height="12.5" fill="rgb(237, 254, 52)"/>
<rect x="219.9" y="216.6" width="12.1" height="12.5" fill="rgb(237, 254, 52)"/>
<rect x="231.7" y="216.6" width="12.1" height="12.5" fill="rgb(237, 254, 52)"/>
<rect x="243.5" y="216.6" width="12.1" height="12.5" fill="rgb(200, 253, 59)"/>
<rect x="255.2" y="216.6" width="12.1" height="12.5" fill="rgb(200, 253, 59)"/>
<rect x="267.0" y="216.6" width="12.1" height="12.5" fill="rgb(145, 250, 69)"/>
<rect x="278.8" y="216.6" width="12.1" height="12.5" fill="rgb(145, 250, 69)"/>
<rect x="290.6" y="216.6" width="12.1" height="12.5" fill="rgb(133, 231, 255)"/>
<rect x="302.4" y="216.6" width="12.1" height="12.5" fill="rgb(180, 174, 254)"/>
<rect x="314.2" y="216.6" width="24.1" height="12.5" fill="rgb(180, 174, 254)"/>
<rect x="31.0" y="228.8" width="24.1" height="12.5" fill="rgb(255, 243, 253)"/>
<rect x="54.8" y="228.8" width="12.1" height="12.5" fill="rgb(255, 243, 253)"/>
<rect x="66.6" y="228.8" width="12.1" height="12.5" fill="rgb(255, 243, 253)"/>
<rect x="78.4" y="228.8" width="12.1" height="12.5" fill="rgb(255, 252, 255)"/>
<rect x="90.2" y="228.8" width="12.1" height="12.5" fill="rgb(255, 252, 255)"/>
<rect x="102.0" y="228.8" width="12.1" height="12.5" fill="rgb(255, 243, 253)"/>
<rect x="113.8" y="228.8" width="12.1" height="12.5" fill="rgb(255, 243, 253)"/>
<rect x="125.5" y="228.8" width="12.1" height="12.5" fill="rgb(255, 243, 253)"/>
<rect x="137.3" y="228.8" width="12.1" height="12.5" fill="rgb(255, 227, 251)"/>
<rect x="149.1" y="228.8" width="12.1" height="12.5" fill="rgb(248, 205, 249)"/>
<rect x="160.9" y="228.8" width="12.1" height="12.5" fill="rgb(180, 174, 254)"/>
<rect x="172.7" y="228.8" width="12.1" height="12.5" fill="rgb(150, 201, 255)"/>
<rect x="184.5" y="228.8" width="12.1" height="12.5" fill="rgb(200, 253, 59)"/>
<rect x="196.3" y="228.8" width="12.1" height="12.5" fill="rgb(237, 254, 52)"/>
<rect x="208.1" y="228.8" width="12.1" height="12.5" fill="rgb(255, 225, 42)"/>
<rect x="219.9" y="228.8" width="12.1" height="12.5" fill="rgb(255, 166, 29)"/>
<rect x="231.7" y="228.8" width="12.1" height="12.5" fill="rgb(255, 166, 29)"/>
<rect x="243.5" y="228.8" width="12.1" height="12.5" fill="rgb(255, 166, 29)"/>
<rect x="255.2" y="228.8" width="12.1" height="12.5" fill="rgb(237, 254, 52)"/>
<rect x="267.0" y="228.8" width="12.1" height="12.5" fill="rgb(237, 254, 52)"/>
<rect x="278.8" y="228.8" width="12.1" height="12.5" fill="rgb(200, 253, 59)"/>
<rect x="290.6" y="228.8" width="12.1" height="12.5" fill="rgb(93, 247, 96)"/>
<rect x="302.4" y="228.8" width="12.1" height="12.5" fill="rgb(93, 247, 96)"/>
<rect x="314.2" y="228.8" width="24.1" height="12.5" fill="rgb(93, 247, 96)"/>
<rect x="31.0" y="241.0" width="24.1" height="12.5" fill="rgb(255, 227, 251)"/>
<rect x="54.8" y="241.0" width="12.1" height="12.5" fill="rgb(255, 227, 251)"/>
<rect x="66.6" y="241.0" width="12.1" height="12.5" fill="rgb(255, 227, 251)"/>
<rect x="78.4" y="241.0" width="12.1" height="12.5" fill="rgb(255, 243, 253)"/>
<rect x="90.2" y="241.0" width="12.1" height="12.5" fill="rgb(255, 243, 253)"/>
<rect x="102.0" y="241.0" width="12.1" height="12.5" fill="rgb(255, 243, 253)"/>
<rect x="113.8" y="241.0" width="12.1" height="12.5" fill="rgb(255, 243, 253)"/>
<rect x="125.5" y="241.0" width="12.1" height="12.5" fill="rgb(255, 227, 251)"/>
<rect x="137.3" y="241.0" width="12.1" height="12.5" fill="rgb(255, 227, 251)"/>
<rect x="149.1" y="241.0" width="12.1" height="12.5" fill="rgb(248, 205, 249)"/>
<rect x="160.9" y="241.0" width="12.1" height="12.5" fill="rgb(160, 183, 255)"/>
<rect x="172.7" y="241.0" width="12.1" height="12.5" fill="rgb(99, 246, 122)"/>
<rect x="184.5" y="241.0" width="12.1" height="12.5" fill="rgb(237, 254, 52)"/>
<rect x="196.3" y="241.0" width="12.1" height="12.5" fill="rgb(255, 225, 42)"/>
<rect x="208.1" y="241.0" width="12.1" height="12.5" fill="rgb(255, 166, 29)"/>
<rect x="219.9" y="241.0" width="12.1" height="12.5" fill="rgb(255, 121, 19)"/>
<rect x="231.7" y="241.0" width="12.1" height="12.5" fill="rgb(255, 121, 19)"/>
<rect x="243.5" y="241.0" width="12.1" height="12.5" fill="rgb(255, 121, 19)"/>
<rect x="255.2" y="241.0" width="12.1" height="12.5" fill="rgb(255, 225, 42)"/>
<rect x="267.0" y="241.0" width="12.1" height="12.5" fill="rgb(237, 254, 52)"/>
<rect x="278.8" y="241.0" width="12.1" height="12.5" fill="rgb(237, 254, 52)"/>
<rect x="290.6" y="241.0" width="12.1" height="12.5" fill="rgb(200, 253, 59)"/>
<rect x="302.4" y="241.0" width="12.1" height="12.5" fill="rgb(200, 253, 59)"/>
<rect x="314.2" y="241.0" width="24.1" height="12.5" fill="rgb(200, 253, 59)"/>
<rect x="31.0" y="253.3" width="24.1" height="12.5" fill="rgb(255, 227, 251)"/>
<rect x="54.8" y="253.3" width="12.1" height="12.5" fill="rgb(255, 227, 251)"/>
<rect x="66.6" y="253.3" width="12.1" height="12.5" fill="rgb(255, 227, 251)"/>
<rect x="78.4" y="253.3" width="12.1" height="12.5" fill="rgb(255, 243, 253)"/>
<rect x="90.2" y="253.3" width="12.1" height="12.5" fill="rgb(255, 243, 253)"/>
<rect x="102.0" y="253.3" width="12.1" height="12.5" fill="rgb(248, 205, 249)"/>
<rect x="113.8" y="253.3" width="12.1" height="12.5" fill="rgb(255, 227, 251)"/>
<rect x="125.5" y="253.3" width="12.1" height="12.5" fill="rgb(255, 227, 251)"/>
<rect x="137.3" y="253.3" width="12.1" height="12.5" fill="rgb(248, 205, 249)"/>
<rect x="149.1" y="253.3" width="12.1" height="12.5" fill="rgb(160, 183, 255)"/>
<rect x="160.9" y="253.3" width="12.1" height="12.5" fill="rgb(150, 201, 255)"/>
<rect x="172.7" y="253.3" width="12.1" height="12.5" fill="rgb(99, 246, 122)"/>
<rect x="184.5" y="253.3" width="12.1" height="12.5" fill="rgb(237, 254, 52)"/>
<rect x="196.3" y="253.3" width="12.1" height="12.5" fill="rgb(255, 166, 29)"/>
<rect x="208.1" y="253.3" width="12.1" height="12.5" fill="rgb(255, 121, 19)"/>
<rect x="219.9" y="253.3" width="12.1" height="12.5" fill="rgb(255, 62, 6)"/>
<rect x="231.7" y="253.3" width="12.1" height="12.5" fill="rgb(255, 62, 6)"/>
<rect x="243.5" y="253.3" width="12.1" height="12.5" fill="rgb(255, 121, 19)"/>
<rect x="255.2" y="253.3" width="12.1" height="12.5" fill="rgb(255, 225, 42)"/>
<rect x="267.0" y="253.3" width="12.1" height="12.5" fill="rgb(237, 254, 52)"/>
<rect x="278.8" y="253.3" width="12.1" height="12.5" fill="rgb(237, 254, 52)"/>
<rect x="290.6" y="253.3" width="12.1" height="12.5" fill="rgb(200, 253, 59)"/>
<rect x="302.4" y="253.3" width="12.1" height="12.5" fill="rgb(200, 253, 59)"/>
<rect x="314.2" y="253.3" width="24.1" height="12.5" fill="rgb(200, 253, 59)"/>
<rect x="31.0" y="265.5" width="24.1" height="12.5" fill="rgb(255, 227, 251)"/>
<rect x="54.8" y="265.5" width="12.1" height="12.5" fill="rgb(255, 227, 251)"/>
<rect x="66.6" y="265.5" width="12.1" height="12.5" fill="rgb(255, 227, 251)"/>
<rect x="78.4" y="265.5" width="12.1" height="12.5" fill="rgb(255, 243, 253)"/>
<rect x="90.2" y="265.5" width="12.1" height="12.5" fill="rgb(255, 227, 251)"/>
<rect x="102.0" y="265.5" width="12.1" height="12.5" fill="rgb(255, 227, 251)"/>
<rect x="113.8" y="265.5" width="12.1" height="12.5" fill="rgb(204, 185, 252)"/>
<rect x="125.5" y="265.5" width="12.1" height="12.5" fill="rgb(180, 174, 254)"/>
<rect x="137.3" y="265.5" width="12.1" height="12.5" fill="rgb(160, 183, 255)"/>
<rect x="149.1" y="265.5" width="12.1" height="12.5" fill="rgb(133, 231, 255)"/>
<rect x="160.9" y="265.5" width="12.1" height="12.5" fill="rgb(93, 247, 96)"/>
<rect x="172.7" y="265.5" width="12.1" height="12.5" fill="rgb(145, 250, 69)"/>
<rect x="184.5" y="265.5" width="12.1" height="12.5" fill="rgb(237, 254, 52)"/>
<rect x="196.3" y="265.5" width="12.1" height="12.5" fill="rgb(255, 225, 42)"/>
<rect x="208.1" y="265.5" width="12.1" height="12.5" fill="rgb(255, 166, 29)"/>
<rect x="219.9" y="265.5" width="12.1" height="12.5" fill="rgb(255, 62, 6)"/>
<rect x="231.7" y="265.5" width="12.1" height="12.5" fill="rgb(255, 62, 6)"/>
<rect x="243.5" y="265.5" width="12.1" height="12.5" fill="rgb(255, 121, 19)"/>
<rect x="255.2" y="265.5" width="12.1" height="12.5" fill="rgb(255, 166, 29)"/>
<rect x="267.0" y="265.5" width="12.1" height="12.5" fill="rgb(255, 225, 42)"/>
<rect x="278.8" y="265.5" width="12.1" height="12.5" fill="rgb(237, 254, 52)"/>
<rect x="290.6" y="265.5" width="12.1" height="12.5" fill="rgb(237, 254, 52)"/>
<rect x="302.4" y="265.5" width="12.1" height="12.5" fill="rgb(237, 254, 52)"/>
<rect x="314.2" y="265.5" width="24.1" height="12.5" fill="rgb(237, 254, 52)"/>
<rect x="31.0" y="277.7" width="24.1" height="12.5" fill="rgb(255, 227, 251)"/>
<rect x="54.8" y="277.7" width="12.1" height="12.5" fill="rgb(255, 227, 251)"/>
<rect x="66.6" y="277.7" width="12.1" height="12.5" fill="rgb(255, 227, 251)"/>
<rect x="78.4" y="277.7" width="12.1" height="12.5" fill="rgb(255, 243, 253)"/>
<rect x="90.2" y="277.7" width="12.1" height="12.5" fill="rgb(255, 227, 251)"/>
<rect x="102.0" y="277.7" width="12.1" height="12.5" fill="rgb(255, 227, 251)"/>
<rect x="113.8" y="277.7" width="12.1" height="12.5" fill="rgb(204, 185, 252)"/>
<rect x="125.5" y="277.7" width="12.1" height="12.5" fill="rgb(204, 185, 252)"/>
<rect x="137.3" y="277.7" width="12.1" height="12.5" fill="rgb(180, 174, 254)"/>
<rect x="149.1" y="277.7" width="12.1" height="12.5" fill="rgb(99, 246, 122)"/>
<rect x="160.9" y="277.7" width="12.1" height="12.5" fill="rgb(93, 247, 96)"/>
<rect x="172.7" y="277.7" width="12.1" height="12.5" fill="rgb(145, 250, 69)"/>
<rect x="184.5" y="277.7" width="12.1" height="12.5" fill="rgb(237, 254, 52)"/>
<rect x="196.3" y="277.7" width="12.1" height="12.5" fill="rgb(255, 166, 29)"/>
<rect x="208.1" y="277.7" width="12.1" height="12.5" fill="rgb(255, 121, 19)"/>
<rect x="219.9" y="277.7" width="12.1" height="12.5" fill="rgb(255, 121, 19)"/>
<rect x="231.7" y="277.7" width="12.1" height="12.5" fill="rgb(255, 166, 29)"/>
<rect x="243.5" y="277.7" width="12.1" height="12.5" fill="rgb(255, 225, 42)"/>
<rect x="255.2" y="277.7" width="12.1" height="12.5" fill="rgb(255, 225, 42)"/>
<rect x="267.0" y="277.7" width="12.1" height="12.5" fill="rgb(237, 254, 52)"/>
<rect x="278.8" y="277.7" width="12.1" height="12.5" fill="rgb(237, 254, 52)"/>
<rect x="290.6" y="277.7" width="12.1" height="12.5" fill="rgb(237, 254, 52)"/>
<rect x="302.4" y="277.7" width="12.1" height="12.5" fill="rgb(237, 254, 52)"/>
<rect x="314.2" y="277.7" width="24.1" height="12.5" fill="rgb(237, 254, 52)"/>
<rect x="31.0" y="289.9" width="24.1" height="12.5" fill="rgb(255, 227, 251)"/>
<rect x="54.8" y="289.9" width="12.1" height="12.5" fill="rgb(255, 227, 251)"/>
<rect x="66.6" y="289.9" width="12.1" height="12.5" fill="rgb(255, 227, 251)"/>
<rect x="78.4" y="289.9" width="12.1" height="12.5" fill="rgb(255, 243, 253)"/>
<rect x="90.2" y="289.9" width="12.1" height="12.5" fill="rgb(255, 227, 251)"/>
<rect x="102.0" y="289.9" width="12.1" height="12.5" fill="rgb(255, 227, 251)"/>
<rect x="113.8" y="289.9" width="12.1" height="12.5" fill="rgb(204, 185, 252)"/>
<rect x="125.5" y="289.9" width="12.1" height="12.5" fill="rgb(204, 185, 252)"/>
<rect x="137.3" y="289.9" width="12.1" height="12.5" fill="rgb(180, 174, 254)"/>
<rect x="149.1" y="289.9" width="12.1" height="12.5" fill="rgb(99, 246, 122)"/>
<rect x="160.9" y="289.9" width="12.1" height="12.5" fill="rgb(93, 247, 96)"/>
<rect x="172.7" y="289.9" width="12.1" height="12.5" fill="rgb(145, 250, 69)"/>
<rect x="184.5" y="289.9" width="12.1" height="12.5" fill="rgb(237, 254, 52)"/>
<rect x="196.3" y="289.9" width="12.1" height="12.5" fill="rgb(255, 225, 42)"/>
<rect x="208.1" y="289.9" width="12.1" height="12.5" fill="rgb(255, 166, 29)"/>
<rect x="219.9" y="289.9" width="12.1" height="12.5" fill="rgb(255, 166, 29)"/>
<rect x="231.7" y="289.9" width="12.1" height="12.5" fill="rgb(255, 225, 42)"/>
<rect x="243.5" y="289.9" width="12.1" height="12.5" fill="rgb(255, 225, 42)"/>
<rect x="255.2" y="289.9" width="12.1" height="12.5" fill="rgb(237, 254, 52)"/>
<rect x="267.0" y="289.9" width="12.1" height="12.5" fill="rgb(237, 254, 52)"/>
<rect x="278.8" y="289.9" width="12.1" height="12.5" fill="rgb(237, 254, 52)"/>
<rect x="290.6" y="289.9" width="12.1" height="12.5" fill="rgb(237, 254, 52)"/>
<rect x="302.4" y="289.9" width="12.1" height="12.5" fill="rgb(237, 254, 52)"/>
<rect x="314.2" y="289.9" width="24.1" height="12.5" fill="rgb(237, 254, 52)"/>
<rect x="31.0" y="302.2" width="24.1" height="24.5" fill="rgb(255, 227, 251)"/>
<rect x="54.8" y="302.2" width="12.1" height="24.5" fill="rgb(255, 227, 251)"/>
<rect x="66.6" y="302.2" width="12.1" height="24.5" fill="rgb(255, 227, 251)"/>
<rect x="78.4" y="302.2" width="12.1" height="24.5" fill="rgb(255, 243, 253)"/>
<rect x="90.2" y="302.2" width="12.1" height="24.5" fill="rgb(255, 227, 251)"/>
<rect x="102.0" y="302.2" width="12.1" height="24.5" fill="rgb(255, 227, 251)"/>
<rect x="113.8" y="302.2" width="12.1" height="24.5" fill="rgb(204, 185, 252)"/>
<rect x="125.5" y="302.2" width="12.1" height="24.5" fill="rgb(204, 185, 252)"/>
<rect x="137.3" y="302.2" width="12.1" height="24.5" fill="rgb(180, 174, 254)"/>
<rect x="149.1" y="302.2" width="12.1" height="24.5" fill="rgb(99, 246, 122)"/>
<rect x="160.9" y="302.2" width="12.1" height="24.5" fill="rgb(93, 247, 96)"/>
<rect x="172.7" y="302.2" width="12.1" height="24.5" fill="rgb(200, 253, 59)"/>
<rect x="184.5" y="302.2" width="12.1" height="24.5" fill="rgb(200, 253, 59)"/>
<rect x="196.3" y="302.2" width="12.1" height="24.5" fill="rgb(237, 254, 52)"/>
<rect x="208.1" y="302.2" width="12.1" height="24.5" fill="rgb(255, 225, 42)"/>
<rect x="219.9" y="302.2" width="12.1" height="24.5" fill="rgb(255, 225, 42)"/>
<rect x="231.7" y="302.2" width="12.1" height="24.5" fill="rgb(237, 254, 52)"/>
<rect x="243.5" y="302.2" width="12.1" height="24.5" fill="rgb(237, 254, 52)"/>
<rect x="255.2" y="302.2" width="12.1" height="24.5" fill="rgb(237, 254, 52)"/>
<rect x="267.0" y="302.2" width="12.1" height="24.5" fill="rgb(237, 254, 52)"/>
<rect x="278.8" y="302.2" width="12.1" height="24.5" fill="rgb(237, 254, 52)"/>
<rect x="290.6" y="302.2" width="12.1" height="24.5" fill="rgb(237, 254, 52)"/>
<rect x="302.4" y="302.2" width="12.1" height="24.5" fill="rgb(237, 254, 52)"/>
<rect x="314.2" y="302.2" width="24.1" height="24.5" fill="rgb(237, 254, 52)"/>
</g>
<g filter="url(#mott)">
<rect x="31.0" y="33.4" width="24.1" height="24.5" fill="rgb(155, 192, 255)"/>
<rect x="54.8" y="33.4" width="12.1" height="24.5" fill="rgb(155, 192, 255)"/>
<rect x="66.6" y="33.4" width="12.1" height="24.5" fill="rgb(155, 192, 255)"/>
<rect x="78.4" y="33.4" width="12.1" height="24.5" fill="rgb(155, 192, 255)"/>
<rect x="90.2" y="33.4" width="12.1" height="24.5" fill="rgb(155, 192, 255)"/>
<rect x="102.0" y="33.4" width="12.1" height="24.5" fill="rgb(155, 192, 255)"/>
<rect x="113.8" y="33.4" width="12.1" height="24.5" fill="rgb(155, 192, 255)"/>
<rect x="125.5" y="33.4" width="12.1" height="24.5" fill="rgb(155, 192, 255)"/>
<rect x="137.3" y="33.4" width="12.1" height="24.5" fill="rgb(143, 214, 255)"/>
<rect x="149.1" y="33.4" width="12.1" height="24.5" fill="rgb(93, 247, 96)"/>
<rect x="160.9" y="33.4" width="12.1" height="24.5" fill="rgb(118, 249, 75)"/>
<rect x="172.7" y="33.4" width="12.1" height="24.5" fill="rgb(118, 249, 75)"/>
<rect x="184.5" y="33.4" width="12.1" height="24.5" fill="rgb(118, 249, 75)"/>
<rect x="196.3" y="33.4" width="12.1" height="24.5" fill="rgb(118, 249, 75)"/>
<rect x="208.1" y="33.4" width="12.1" height="24.5" fill="rgb(110, 244, 170)"/>
<rect x="219.9" y="33.4" width="12.1" height="24.5" fill="rgb(128, 240, 255)"/>
<rect x="231.7" y="33.4" width="12.1" height="24.5" fill="rgb(128, 240, 255)"/>
<rect x="243.5" y="33.4" width="12.1" height="24.5" fill="rgb(128, 240, 255)"/>
<rect x="255.2" y="33.4" width="12.1" height="24.5" fill="rgb(110, 244, 170)"/>
<rect x="267.0" y="33.4" width="12.1" height="24.5" fill="rgb(93, 247, 96)"/>
<rect x="278.8" y="33.4" width="12.1" height="24.5" fill="rgb(110, 244, 170)"/>
<rect x="290.6" y="33.4" width="12.1" height="24.5" fill="rgb(93, 247, 96)"/>
<rect x="302.4" y="33.4" width="12.1" height="24.5" fill="rgb(93, 247, 96)"/>
<rect x="314.2" y="33.4" width="24.1" height="24.5" fill="rgb(155, 192, 255)"/>
<rect x="31.0" y="57.6" width="24.1" height="12.5" fill="rgb(195, 180, 253)"/>
<rect x="54.8" y="57.6" width="12.1" height="12.5" fill="rgb(195, 180, 253)"/>
<rect x="66.6" y="57.6" width="12.1" height="12.5" fill="rgb(195, 180, 253)"/>
<rect x="78.4" y="57.6" width="12.1" height="12.5" fill="rgb(195, 180, 253)"/>
<rect x="90.2" y="57.6" width="12.1" height="12.5" fill="rgb(195, 180, 253)"/>
<rect x="102.0" y="57.6" width="12.1" height="12.5" fill="rgb(195, 180, 253)"/>
<rect x="113.8" y="57.6" width="12.1" height="12.5" fill="rgb(195, 180, 253)"/>
<rect x="125.5" y="57.6" width="12.1" height="12.5" fill="rgb(162, 179, 255)"/>
<rect x="137.3" y="57.6" width="12.1" height="12.5" fill="rgb(155, 192, 255)"/>
<rect x="149.1" y="57.6" width="12.1" height="12.5" fill="rgb(128, 240, 255)"/>
<rect x="160.9" y="57.6" width="12.1" height="12.5" fill="rgb(110, 244, 170)"/>
<rect x="172.7" y="57.6" width="12.1" height="12.5" fill="rgb(93, 247, 96)"/>
<rect x="184.5" y="57.6" width="12.1" height="12.5" fill="rgb(93, 247, 96)"/>
<rect x="196.3" y="57.6" width="12.1" height="12.5" fill="rgb(118, 249, 75)"/>
<rect x="208.1" y="57.6" width="12.1" height="12.5" fill="rgb(110, 244, 170)"/>
<rect x="219.9" y="57.6" width="12.1" height="12.5" fill="rgb(128, 240, 255)"/>
<rect x="231.7" y="57.6" width="12.1" height="12.5" fill="rgb(128, 240, 255)"/>
<rect x="243.5" y="57.6" width="12.1" height="12.5" fill="rgb(128, 240, 255)"/>
<rect x="255.2" y="57.6" width="12.1" height="12.5" fill="rgb(110, 244, 170)"/>
<rect x="267.0" y="57.6" width="12.1" height="12.5" fill="rgb(93, 247, 96)"/>
<rect x="278.8" y="57.6" width="12.1" height="12.5" fill="rgb(110, 244, 170)"/>
<rect x="290.6" y="57.6" width="12.1" height="12.5" fill="rgb(93, 247, 96)"/>
<rect x="302.4" y="57.6" width="12.1" height="12.5" fill="rgb(93, 247, 96)"/>
<rect x="314.2" y="57.6" width="24.1" height="12.5" fill="rgb(155, 192, 255)"/>
<rect x="31.0" y="69.9" width="24.1" height="12.5" fill="rgb(195, 180, 253)"/>
<rect x="54.8" y="69.9" width="12.1" height="12.5" fill="rgb(195, 180, 253)"/>
<rect x="66.6" y="69.9" width="12.1" height="12.5" fill="rgb(195, 180, 253)"/>
<rect x="78.4" y="69.9" width="12.1" height="12.5" fill="rgb(195, 180, 253)"/>
<rect x="90.2" y="69.9" width="12.1" height="12.5" fill="rgb(195, 180, 253)"/>
<rect x="102.0" y="69.9" width="12.1" height="12.5" fill="rgb(195, 180, 253)"/>
<rect x="113.8" y="69.9" width="12.1" height="12.5" fill="rgb(195, 180, 253)"/>
<rect x="125.5" y="69.9" width="12.1" height="12.5" fill="rgb(195, 180, 253)"/>
<rect x="137.3" y="69.9" width="12.1" height="12.5" fill="rgb(162, 179, 255)"/>
<rect x="149.1" y="69.9" width="12.1" height="12.5" fill="rgb(162, 179, 255)"/>
<rect x="160.9" y="69.9" width="12.1" height="12.5" fill="rgb(162, 179, 255)"/>
<rect x="172.7" y="69.9" width="12.1" height="12.5" fill="rgb(155, 192, 255)"/>
<rect x="184.5" y="69.9" width="12.1" height="12.5" fill="rgb(155, 192, 255)"/>
<rect x="196.3" y="69.9" width="12.1" height="12.5" fill="rgb(110, 244, 170)"/>
<rect x="208.1" y="69.9" width="12.1" height="12.5" fill="rgb(110, 244, 170)"/>
<rect x="219.9" y="69.9" width="12.1" height="12.5" fill="rgb(128, 240, 255)"/>
<rect x="231.7" y="69.9" width="12.1" height="12.5" fill="rgb(128, 240, 255)"/>
<rect x="243.5" y="69.9" width="12.1" height="12.5" fill="rgb(128, 240, 255)"/>
<rect x="255.2" y="69.9" width="12.1" height="12.5" fill="rgb(110, 244, 170)"/>
<rect x="267.0" y="69.9" width="12.1" height="12.5" fill="rgb(93, 247, 96)"/>
<rect x="278.8" y="69.9" width="12.1" height="12.5" fill="rgb(110, 244, 170)"/>
<rect x="290.6" y="69.9" width="12.1" height="12.5" fill="rgb(93, 247, 96)"/>
<rect x="302.4" y="69.9" width="12.1" height="12.5" fill="rgb(93, 247, 96)"/>
<rect x="314.2" y="69.9" width="24.1" height="12.5" fill="rgb(155, 192, 255)"/>
<rect x="31.0" y="82.1" width="24.1" height="12.5" fill="rgb(195, 180, 253)"/>
<rect x="54.8" y="82.1" width="12.1" height="12.5" fill="rgb(195, 180, 253)"/>
<rect x="66.6" y="82.1" width="12.1" height="12.5" fill="rgb(195, 180, 253)"/>
<rect x="78.4" y="82.1" width="12.1" height="12.5" fill="rgb(195, 180, 253)"/>
<rect x="90.2" y="82.1" width="12.1" height="12.5" fill="rgb(195, 180, 253)"/>
<rect x="102.0" y="82.1" width="12.1" height="12.5" fill="rgb(195, 180, 253)"/>
<rect x="113.8" y="82.1" width="12.1" height="12.5" fill="rgb(195, 180, 253)"/>
<rect x="125.5" y="82.1" width="12.1" height="12.5" fill="rgb(195, 180, 253)"/>
<rect x="137.3" y="82.1" width="12.1" height="12.5" fill="rgb(195, 180, 253)"/>
<rect x="149.1" y="82.1" width="12.1" height="12.5" fill="rgb(162, 179, 255)"/>
<rect x="160.9" y="82.1" width="12.1" height="12.5" fill="rgb(162, 179, 255)"/>
<rect x="172.7" y="82.1" width="12.1" height="12.5" fill="rgb(155, 192, 255)"/>
<rect x="184.5" y="82.1" width="12.1" height="12.5" fill="rgb(155, 192, 255)"/>
<rect x="196.3" y="82.1" width="12.1" height="12.5" fill="rgb(155, 192, 255)"/>
<rect x="208.1" y="82.1" width="12.1" height="12.5" fill="rgb(155, 192, 255)"/>
<rect x="219.9" y="82.1" width="12.1" height="12.5" fill="rgb(155, 192, 255)"/>
<rect x="231.7" y="82.1" width="12.1" height="12.5" fill="rgb(143, 214, 255)"/>
<rect x="243.5" y="82.1" width="12.1" height="12.5" fill="rgb(128, 240, 255)"/>
<rect x="255.2" y="82.1" width="12.1" height="12.5" fill="rgb(110, 244, 170)"/>
<rect x="267.0" y="82.1" width="12.1" height="12.5" fill="rgb(93, 247, 96)"/>
<rect x="278.8" y="82.1" width="12.1" height="12.5" fill="rgb(110, 244, 170)"/>
<rect x="290.6" y="82.1" width="12.1" height="12.5" fill="rgb(93, 247, 96)"/>
<rect x="302.4" y="82.1" width="12.1" height="12.5" fill="rgb(93, 247, 96)"/>
<rect x="314.2" y="82.1" width="24.1" height="12.5" fill="rgb(155, 192, 255)"/>
<rect x="31.0" y="94.3" width="24.1" height="12.5" fill="rgb(195, 180, 253)"/>
<rect x="54.8" y="94.3" width="12.1" height="12.5" fill="rgb(195, 180, 253)"/>
<rect x="66.6" y="94.3" width="12.1" height="12.5" fill="rgb(195, 180, 253)"/>
<rect x="78.4" y="94.3" width="12.1" height="12.5" fill="rgb(195, 180, 253)"/>
<rect x="90.2" y="94.3" width="12.1" height="12.5" fill="rgb(195, 180, 253)"/>
<rect x="102.0" y="94.3" width="12.1" height="12.5" fill="rgb(195, 180, 253)"/>
<rect x="113.8" y="94.3" width="12.1" height="12.5" fill="rgb(195, 180, 253)"/>
<rect x="125.5" y="94.3" width="12.1" height="12.5" fill="rgb(195, 180, 253)"/>
<rect x="137.3" y="94.3" width="12.1" height="12.5" fill="rgb(195, 180, 253)"/>
<rect x="149.1" y="94.3" width="12.1" height="12.5" fill="rgb(162, 179, 255)"/>
<rect x="160.9" y="94.3" width="12.1" height="12.5" fill="rgb(162, 179, 255)"/>
<rect x="172.7" y="94.3" width="12.1" height="12.5" fill="rgb(162, 179, 255)"/>
<rect x="184.5" y="94.3" width="12.1" height="12.5" fill="rgb(162, 179, 255)"/>
<rect x="196.3" y="94.3" width="12.1" height="12.5" fill="rgb(155, 192, 255)"/>
<rect x="208.1" y="94.3" width="12.1" height="12.5" fill="rgb(155, 192, 255)"/>
<rect x="219.9" y="94.3" width="12.1" height="12.5" fill="rgb(155, 192, 255)"/>
<rect x="231.7" y="94.3" width="12.1" height="12.5" fill="rgb(155, 192, 255)"/>
<rect x="243.5" y="94.3" width="12.1" height="12.5" fill="rgb(155, 192, 255)"/>
<rect x="255.2" y="94.3" width="12.1" height="12.5" fill="rgb(143, 214, 255)"/>
<rect x="267.0" y="94.3" width="12.1" height="12.5" fill="rgb(128, 240, 255)"/>
<rect x="278.8" y="94.3" width="12.1" height="12.5" fill="rgb(110, 244, 170)"/>
<rect x="290.6" y="94.3" width="12.1" height="12.5" fill="rgb(93, 247, 96)"/>
<rect x="302.4" y="94.3" width="12.1" height="12.5" fill="rgb(93, 247, 96)"/>
<rect x="314.2" y="94.3" width="24.1" height="12.5" fill="rgb(155, 192, 255)"/>
<rect x="31.0" y="106.5" width="24.1" height="12.5" fill="rgb(195, 180, 253)"/>
<rect x="54.8" y="106.5" width="12.1" height="12.5" fill="rgb(195, 180, 253)"/>
<rect x="66.6" y="106.5" width="12.1" height="12.5" fill="rgb(195, 180, 253)"/>
<rect x="78.4" y="106.5" width="12.1" height="12.5" fill="rgb(195, 180, 253)"/>
<rect x="90.2" y="106.5" width="12.1" height="12.5" fill="rgb(195, 180, 253)"/>
<rect x="102.0" y="106.5" width="12.1" height="12.5" fill="rgb(195, 180, 253)"/>
<rect x="113.8" y="106.5" width="12.1" height="12.5" fill="rgb(195, 180, 253)"/>
<rect x="125.5" y="106.5" width="12.1" height="12.5" fill="rgb(195, 180, 253)"/>
<rect x="137.3" y="106.5" width="12.1" height="12.5" fill="rgb(162, 179, 255)"/>
<rect x="149.1" y="106.5" width="12.1" height="12.5" fill="rgb(162, 179, 255)"/>
<rect x="160.9" y="106.5" width="12.1" height="12.5" fill="rgb(162, 179, 255)"/>
<rect x="172.7" y="106.5" width="12.1" height="12.5" fill="rgb(155, 192, 255)"/>
<rect x="184.5" y="106.5" width="12.1" height="12.5" fill="rgb(162, 179, 255)"/>
<rect x="196.3" y="106.5" width="12.1" height="12.5" fill="rgb(155, 192, 255)"/>
<rect x="208.1" y="106.5" width="12.1" height="12.5" fill="rgb(155, 192, 255)"/>
<rect x="219.9" y="106.5" width="12.1" height="12.5" fill="rgb(155, 192, 255)"/>
<rect x="231.7" y="106.5" width="12.1" height="12.5" fill="rgb(155, 192, 255)"/>
<rect x="243.5" y="106.5" width="12.1" height="12.5" fill="rgb(143, 214, 255)"/>
<rect x="255.2" y="106.5" width="12.1" height="12.5" fill="rgb(143, 214, 255)"/>
<rect x="267.0" y="106.5" width="12.1" height="12.5" fill="rgb(128, 240, 255)"/>
<rect x="278.8" y="106.5" width="12.1" height="12.5" fill="rgb(110, 244, 170)"/>
<rect x="290.6" y="106.5" width="12.1" height="12.5" fill="rgb(93, 247, 96)"/>
<rect x="302.4" y="106.5" width="12.1" height="12.5" fill="rgb(143, 214, 255)"/>
<rect x="314.2" y="106.5" width="24.1" height="12.5" fill="rgb(155, 192, 255)"/>
<rect x="31.0" y="118.8" width="24.1" height="12.5" fill="rgb(195, 180, 253)"/>
<rect x="54.8" y="118.8" width="12.1" height="12.5" fill="rgb(195, 180, 253)"/>
<rect x="66.6" y="118.8" width="12.1" height="12.5" fill="rgb(195, 180, 253)"/>
<rect x="78.4" y="118.8" width="12.1" height="12.5" fill="rgb(195, 180, 253)"/>
<rect x="90.2" y="118.8" width="12.1" height="12.5" fill="rgb(195, 180, 253)"/>
<rect x="102.0" y="118.8" width="12.1" height="12.5" fill="rgb(195, 180, 253)"/>
<rect x="113.8" y="118.8" width="12.1" height="12.5" fill="rgb(162, 179, 255)"/>
<rect x="125.5" y="118.8" width="12.1" height="12.5" fill="rgb(195, 180, 253)"/>
<rect x="137.3" y="118.8" width="12.1" height="12.5" fill="rgb(195, 180, 253)"/>
<rect x="149.1" y="118.8" width="12.1" height="12.5" fill="rgb(195, 180, 253)"/>
<rect x="160.9" y="118.8" width="12.1" height="12.5" fill="rgb(155, 192, 255)"/>
<rect x="172.7" y="118.8" width="12.1" height="12.5" fill="rgb(143, 214, 255)"/>
<rect x="184.5" y="118.8" width="12.1" height="12.5" fill="rgb(128, 240, 255)"/>
<rect x="196.3" y="118.8" width="12.1" height="12.5" fill="rgb(110, 244, 170)"/>
<rect x="208.1" y="118.8" width="12.1" height="12.5" fill="rgb(110, 244, 170)"/>
<rect x="219.9" y="118.8" width="12.1" height="12.5" fill="rgb(93, 247, 96)"/>
<rect x="231.7" y="118.8" width="12.1" height="12.5" fill="rgb(93, 247, 96)"/>
<rect x="243.5" y="118.8" width="12.1" height="12.5" fill="rgb(110, 244, 170)"/>
<rect x="255.2" y="118.8" width="12.1" height="12.5" fill="rgb(128, 240, 255)"/>
<rect x="267.0" y="118.8" width="12.1" height="12.5" fill="rgb(128, 240, 255)"/>
<rect x="278.8" y="118.8" width="12.1" height="12.5" fill="rgb(128, 240, 255)"/>
<rect x="290.6" y="118.8" width="12.1" height="12.5" fill="rgb(128, 240, 255)"/>
<rect x="302.4" y="118.8" width="12.1" height="12.5" fill="rgb(143, 214, 255)"/>
<rect x="314.2" y="118.8" width="24.1" height="12.5" fill="rgb(155, 192, 255)"/>
<rect x="31.0" y="131.0" width="24.1" height="12.5" fill="rgb(195, 180, 253)"/>
<rect x="54.8" y="131.0" width="12.1" height="12.5" fill="rgb(195, 180, 253)"/>
<rect x="66.6" y="131.0" width="12.1" height="12.5" fill="rgb(195, 180, 253)"/>
<rect x="78.4" y="131.0" width="12.1" height="12.5" fill="rgb(195, 180, 253)"/>
<rect x="90.2" y="131.0" width="12.1" height="12.5" fill="rgb(255, 217, 249)"/>
<rect x="102.0" y="131.0" width="12.1" height="12.5" fill="rgb(255, 217, 249)"/>
<rect x="113.8" y="131.0" width="12.1" height="12.5" fill="rgb(195, 180, 253)"/>
<rect x="125.5" y="131.0" width="12.1" height="12.5" fill="rgb(195, 180, 253)"/>
<rect x="137.3" y="131.0" width="12.1" height="12.5" fill="rgb(162, 179, 255)"/>
<rect x="149.1" y="131.0" width="12.1" height="12.5" fill="rgb(195, 180, 253)"/>
<rect x="160.9" y="131.0" width="12.1" height="12.5" fill="rgb(155, 192, 255)"/>
<rect x="172.7" y="131.0" width="12.1" height="12.5" fill="rgb(143, 214, 255)"/>
<rect x="184.5" y="131.0" width="12.1" height="12.5" fill="rgb(128, 240, 255)"/>
<rect x="196.3" y="131.0" width="12.1" height="12.5" fill="rgb(110, 244, 170)"/>
<rect x="208.1" y="131.0" width="12.1" height="12.5" fill="rgb(110, 244, 170)"/>
<rect x="219.9" y="131.0" width="12.1" height="12.5" fill="rgb(93, 247, 96)"/>
<rect x="231.7" y="131.0" width="12.1" height="12.5" fill="rgb(118, 249, 75)"/>
<rect x="243.5" y="131.0" width="12.1" height="12.5" fill="rgb(118, 249, 75)"/>
<rect x="255.2" y="131.0" width="12.1" height="12.5" fill="rgb(93, 247, 96)"/>
<rect x="267.0" y="131.0" width="12.1" height="12.5" fill="rgb(110, 244, 170)"/>
<rect x="278.8" y="131.0" width="12.1" height="12.5" fill="rgb(143, 214, 255)"/>
<rect x="290.6" y="131.0" width="12.1" height="12.5" fill="rgb(155, 192, 255)"/>
<rect x="302.4" y="131.0" width="12.1" height="12.5" fill="rgb(162, 179, 255)"/>
<rect x="314.2" y="131.0" width="24.1" height="12.5" fill="rgb(162, 179, 255)"/>
<rect x="31.0" y="143.2" width="24.1" height="12.5" fill="rgb(195, 180, 253)"/>
<rect x="54.8" y="143.2" width="12.1" height="12.5" fill="rgb(195, 180, 253)"/>
<rect x="66.6" y="143.2" width="12.1" height="12.5" fill="rgb(195, 180, 253)"/>
<rect x="78.4" y="143.2" width="12.1" height="12.5" fill="rgb(195, 180, 253)"/>
<rect x="90.2" y="143.2" width="12.1" height="12.5" fill="rgb(255, 217, 249)"/>
<rect x="102.0" y="143.2" width="12.1" height="12.5" fill="rgb(255, 217, 249)"/>
<rect x="113.8" y="143.2" width="12.1" height="12.5" fill="rgb(195, 180, 253)"/>
<rect x="125.5" y="143.2" width="12.1" height="12.5" fill="rgb(195, 180, 253)"/>
<rect x="137.3" y="143.2" width="12.1" height="12.5" fill="rgb(195, 180, 253)"/>
<rect x="149.1" y="143.2" width="12.1" height="12.5" fill="rgb(195, 180, 253)"/>
<rect x="160.9" y="143.2" width="12.1" height="12.5" fill="rgb(143, 214, 255)"/>
<rect x="172.7" y="143.2" width="12.1" height="12.5" fill="rgb(128, 240, 255)"/>
<rect x="184.5" y="143.2" width="12.1" height="12.5" fill="rgb(110, 244, 170)"/>
<rect x="196.3" y="143.2" width="12.1" height="12.5" fill="rgb(93, 247, 96)"/>
<rect x="208.1" y="143.2" width="12.1" height="12.5" fill="rgb(118, 249, 75)"/>
<rect x="219.9" y="143.2" width="12.1" height="12.5" fill="rgb(140, 250, 70)"/>
<rect x="231.7" y="143.2" width="12.1" height="12.5" fill="rgb(118, 249, 75)"/>
<rect x="243.5" y="143.2" width="12.1" height="12.5" fill="rgb(118, 249, 75)"/>
<rect x="255.2" y="143.2" width="12.1" height="12.5" fill="rgb(93, 247, 96)"/>
<rect x="267.0" y="143.2" width="12.1" height="12.5" fill="rgb(110, 244, 170)"/>
<rect x="278.8" y="143.2" width="12.1" height="12.5" fill="rgb(143, 214, 255)"/>
<rect x="290.6" y="143.2" width="12.1" height="12.5" fill="rgb(155, 192, 255)"/>
<rect x="302.4" y="143.2" width="12.1" height="12.5" fill="rgb(155, 192, 255)"/>
<rect x="314.2" y="143.2" width="24.1" height="12.5" fill="rgb(155, 192, 255)"/>
<rect x="31.0" y="155.4" width="24.1" height="12.5" fill="rgb(195, 180, 253)"/>
<rect x="54.8" y="155.4" width="12.1" height="12.5" fill="rgb(195, 180, 253)"/>
<rect x="66.6" y="155.4" width="12.1" height="12.5" fill="rgb(195, 180, 253)"/>
<rect x="78.4" y="155.4" width="12.1" height="12.5" fill="rgb(195, 180, 253)"/>
<rect x="90.2" y="155.4" width="12.1" height="12.5" fill="rgb(255, 217, 249)"/>
<rect x="102.0" y="155.4" width="12.1" height="12.5" fill="rgb(255, 217, 249)"/>
<rect x="113.8" y="155.4" width="12.1" height="12.5" fill="rgb(255, 217, 249)"/>
<rect x="125.5" y="155.4" width="12.1" height="12.5" fill="rgb(195, 180, 253)"/>
<rect x="137.3" y="155.4" width="12.1" height="12.5" fill="rgb(195, 180, 253)"/>
<rect x="149.1" y="155.4" width="12.1" height="12.5" fill="rgb(195, 180, 253)"/>
<rect x="160.9" y="155.4" width="12.1" height="12.5" fill="rgb(128, 240, 255)"/>
<rect x="172.7" y="155.4" width="12.1" height="12.5" fill="rgb(93, 247, 96)"/>
<rect x="184.5" y="155.4" width="12.1" height="12.5" fill="rgb(118, 249, 75)"/>
<rect x="196.3" y="155.4" width="12.1" height="12.5" fill="rgb(118, 249, 75)"/>
<rect x="208.1" y="155.4" width="12.1" height="12.5" fill="rgb(140, 250, 70)"/>
<rect x="219.9" y="155.4" width="12.1" height="12.5" fill="rgb(118, 249, 75)"/>
<rect x="231.7" y="155.4" width="12.1" height="12.5" fill="rgb(118, 249, 75)"/>
<rect x="243.5" y="155.4" width="12.1" height="12.5" fill="rgb(118, 249, 75)"/>
<rect x="255.2" y="155.4" width="12.1" height="12.5" fill="rgb(93, 247, 96)"/>
<rect x="267.0" y="155.4" width="12.1" height="12.5" fill="rgb(110, 244, 170)"/>
<rect x="278.8" y="155.4" width="12.1" height="12.5" fill="rgb(128, 240, 255)"/>
<rect x="290.6" y="155.4" width="12.1" height="12.5" fill="rgb(143, 214, 255)"/>
<rect x="302.4" y="155.4" width="12.1" height="12.5" fill="rgb(155, 192, 255)"/>
<rect x="314.2" y="155.4" width="24.1" height="12.5" fill="rgb(162, 179, 255)"/>
<rect x="31.0" y="167.7" width="24.1" height="12.5" fill="rgb(195, 180, 253)"/>
<rect x="54.8" y="167.7" width="12.1" height="12.5" fill="rgb(195, 180, 253)"/>
<rect x="66.6" y="167.7" width="12.1" height="12.5" fill="rgb(195, 180, 253)"/>
<rect x="78.4" y="167.7" width="12.1" height="12.5" fill="rgb(195, 180, 253)"/>
<rect x="90.2" y="167.7" width="12.1" height="12.5" fill="rgb(255, 217, 249)"/>
<rect x="102.0" y="167.7" width="12.1" height="12.5" fill="rgb(255, 217, 249)"/>
<rect x="113.8" y="167.7" width="12.1" height="12.5" fill="rgb(255, 217, 249)"/>
<rect x="125.5" y="167.7" width="12.1" height="12.5" fill="rgb(195, 180, 253)"/>
<rect x="137.3" y="167.7" width="12.1" height="12.5" fill="rgb(195, 180, 253)"/>
<rect x="149.1" y="167.7" width="12.1" height="12.5" fill="rgb(195, 180, 253)"/>
<rect x="160.9" y="167.7" width="12.1" height="12.5" fill="rgb(110, 244, 170)"/>
<rect x="172.7" y="167.7" width="12.1" height="12.5" fill="rgb(118, 249, 75)"/>
<rect x="184.5" y="167.7" width="12.1" height="12.5" fill="rgb(140, 250, 70)"/>
<rect x="196.3" y="167.7" width="12.1" height="12.5" fill="rgb(140, 250, 70)"/>
<rect x="208.1" y="167.7" width="12.1" height="12.5" fill="rgb(140, 250, 70)"/>
<rect x="219.9" y="167.7" width="12.1" height="12.5" fill="rgb(140, 250, 70)"/>
<rect x="231.7" y="167.7" width="12.1" height="12.5" fill="rgb(118, 249, 75)"/>
<rect x="243.5" y="167.7" width="12.1" height="12.5" fill="rgb(118, 249, 75)"/>
<rect x="255.2" y="167.7" width="12.1" height="12.5" fill="rgb(93, 247, 96)"/>
<rect x="267.0" y="167.7" width="12.1" height="12.5" fill="rgb(110, 244, 170)"/>
<rect x="278.8" y="167.7" width="12.1" height="12.5" fill="rgb(128, 240, 255)"/>
<rect x="290.6" y="167.7" width="12.1" height="12.5" fill="rgb(143, 214, 255)"/>
<rect x="302.4" y="167.7" width="12.1" height="12.5" fill="rgb(155, 192, 255)"/>
<rect x="314.2" y="167.7" width="24.1" height="12.5" fill="rgb(162, 179, 255)"/>
<rect x="31.0" y="179.9" width="24.1" height="12.5" fill="rgb(255, 217, 249)"/>
<rect x="54.8" y="179.9" width="12.1" height="12.5" fill="rgb(255, 217, 249)"/>
<rect x="66.6" y="179.9" width="12.1" height="12.5" fill="rgb(255, 217, 249)"/>
<rect x="78.4" y="179.9" width="12.1" height="12.5" fill="rgb(255, 217, 249)"/>
<rect x="90.2" y="179.9" width="12.1" height="12.5" fill="rgb(255, 234, 252)"/>
<rect x="102.0" y="179.9" width="12.1" height="12.5" fill="rgb(255, 217, 249)"/>
<rect x="113.8" y="179.9" width="12.1" height="12.5" fill="rgb(255, 217, 249)"/>
<rect x="125.5" y="179.9" width="12.1" height="12.5" fill="rgb(195, 180, 253)"/>
<rect x="137.3" y="179.9" width="12.1" height="12.5" fill="rgb(195, 180, 253)"/>
<rect x="149.1" y="179.9" width="12.1" height="12.5" fill="rgb(162, 179, 255)"/>
<rect x="160.9" y="179.9" width="12.1" height="12.5" fill="rgb(110, 244, 170)"/>
<rect x="172.7" y="179.9" width="12.1" height="12.5" fill="rgb(118, 249, 75)"/>
<rect x="184.5" y="179.9" width="12.1" height="12.5" fill="rgb(182, 252, 62)"/>
<rect x="196.3" y="179.9" width="12.1" height="12.5" fill="rgb(140, 250, 70)"/>
<rect x="208.1" y="179.9" width="12.1" height="12.5" fill="rgb(140, 250, 70)"/>
<rect x="219.9" y="179.9" width="12.1" height="12.5" fill="rgb(182, 252, 62)"/>
<rect x="231.7" y="179.9" width="12.1" height="12.5" fill="rgb(140, 250, 70)"/>
<rect x="243.5" y="179.9" width="12.1" height="12.5" fill="rgb(118, 249, 75)"/>
<rect x="255.2" y="179.9" width="12.1" height="12.5" fill="rgb(93, 247, 96)"/>
<rect x="267.0" y="179.9" width="12.1" height="12.5" fill="rgb(110, 244, 170)"/>
<rect x="278.8" y="179.9" width="12.1" height="12.5" fill="rgb(110, 244, 170)"/>
<rect x="290.6" y="179.9" width="12.1" height="12.5" fill="rgb(128, 240, 255)"/>
<rect x="302.4" y="179.9" width="12.1" height="12.5" fill="rgb(143, 214, 255)"/>
<rect x="314.2" y="179.9" width="24.1" height="12.5" fill="rgb(155, 192, 255)"/>
<rect x="31.0" y="192.1" width="24.1" height="12.5" fill="rgb(255, 217, 249)"/>
<rect x="54.8" y="192.1" width="12.1" height="12.5" fill="rgb(255, 217, 249)"/>
<rect x="66.6" y="192.1" width="12.1" height="12.5" fill="rgb(255, 234, 252)"/>
<rect x="78.4" y="192.1" width="12.1" height="12.5" fill="rgb(255, 234, 252)"/>
<rect x="90.2" y="192.1" width="12.1" height="12.5" fill="rgb(255, 234, 252)"/>
<rect x="102.0" y="192.1" width="12.1" height="12.5" fill="rgb(255, 234, 252)"/>
<rect x="113.8" y="192.1" width="12.1" height="12.5" fill="rgb(255, 217, 249)"/>
<rect x="125.5" y="192.1" width="12.1" height="12.5" fill="rgb(255, 217, 249)"/>
<rect x="137.3" y="192.1" width="12.1" height="12.5" fill="rgb(195, 180, 253)"/>
<rect x="149.1" y="192.1" width="12.1" height="12.5" fill="rgb(162, 179, 255)"/>
<rect x="160.9" y="192.1" width="12.1" height="12.5" fill="rgb(93, 247, 96)"/>
<rect x="172.7" y="192.1" width="12.1" height="12.5" fill="rgb(118, 249, 75)"/>
<rect x="184.5" y="192.1" width="12.1" height="12.5" fill="rgb(182, 252, 62)"/>
<rect x="196.3" y="192.1" width="12.1" height="12.5" fill="rgb(182, 252, 62)"/>
<rect x="208.1" y="192.1" width="12.1" height="12.5" fill="rgb(182, 252, 62)"/>
<rect x="219.9" y="192.1" width="12.1" height="12.5" fill="rgb(140, 250, 70)"/>
<rect x="231.7" y="192.1" width="12.1" height="12.5" fill="rgb(140, 250, 70)"/>
<rect x="243.5" y="192.1" width="12.1" height="12.5" fill="rgb(140, 250, 70)"/>
<rect x="255.2" y="192.1" width="12.1" height="12.5" fill="rgb(140, 250, 70)"/>
<rect x="267.0" y="192.1" width="12.1" height="12.5" fill="rgb(118, 249, 75)"/>
<rect x="278.8" y="192.1" width="12.1" height="12.5" fill="rgb(93, 247, 96)"/>
<rect x="290.6" y="192.1" width="12.1" height="12.5" fill="rgb(128, 240, 255)"/>
<rect x="302.4" y="192.1" width="12.1" height="12.5" fill="rgb(143, 214, 255)"/>
<rect x="314.2" y="192.1" width="24.1" height="12.5" fill="rgb(143, 214, 255)"/>
<rect x="31.0" y="204.4" width="24.1" height="12.5" fill="rgb(255, 217, 249)"/>
<rect x="54.8" y="204.4" width="12.1" height="12.5" fill="rgb(255, 234, 252)"/>
<rect x="66.6" y="204.4" width="12.1" height="12.5" fill="rgb(255, 234, 252)"/>
<rect x="78.4" y="204.4" width="12.1" height="12.5" fill="rgb(255, 234, 252)"/>
<rect x="90.2" y="204.4" width="12.1" height="12.5" fill="rgb(255, 234, 252)"/>
<rect x="102.0" y="204.4" width="12.1" height="12.5" fill="rgb(255, 234, 252)"/>
<rect x="113.8" y="204.4" width="12.1" height="12.5" fill="rgb(255, 217, 249)"/>
<rect x="125.5" y="204.4" width="12.1" height="12.5" fill="rgb(255, 217, 249)"/>
<rect x="137.3" y="204.4" width="12.1" height="12.5" fill="rgb(195, 180, 253)"/>
<rect x="149.1" y="204.4" width="12.1" height="12.5" fill="rgb(162, 179, 255)"/>
<rect x="160.9" y="204.4" width="12.1" height="12.5" fill="rgb(93, 247, 96)"/>
<rect x="172.7" y="204.4" width="12.1" height="12.5" fill="rgb(118, 249, 75)"/>
<rect x="184.5" y="204.4" width="12.1" height="12.5" fill="rgb(140, 250, 70)"/>
<rect x="196.3" y="204.4" width="12.1" height="12.5" fill="rgb(182, 252, 62)"/>
<rect x="208.1" y="204.4" width="12.1" height="12.5" fill="rgb(182, 252, 62)"/>
<rect x="219.9" y="204.4" width="12.1" height="12.5" fill="rgb(237, 254, 52)"/>
<rect x="231.7" y="204.4" width="12.1" height="12.5" fill="rgb(237, 254, 52)"/>
<rect x="243.5" y="204.4" width="12.1" height="12.5" fill="rgb(237, 254, 52)"/>
<rect x="255.2" y="204.4" width="12.1" height="12.5" fill="rgb(182, 252, 62)"/>
<rect x="267.0" y="204.4" width="12.1" height="12.5" fill="rgb(182, 252, 62)"/>
<rect x="278.8" y="204.4" width="12.1" height="12.5" fill="rgb(140, 250, 70)"/>
<rect x="290.6" y="204.4" width="12.1" height="12.5" fill="rgb(110, 244, 170)"/>
<rect x="302.4" y="204.4" width="12.1" height="12.5" fill="rgb(143, 214, 255)"/>
<rect x="314.2" y="204.4" width="24.1" height="12.5" fill="rgb(143, 214, 255)"/>
<rect x="31.0" y="216.6" width="24.1" height="12.5" fill="rgb(255, 217, 249)"/>
<rect x="54.8" y="216.6" width="12.1" height="12.5" fill="rgb(255, 217, 249)"/>
<rect x="66.6" y="216.6" width="12.1" height="12.5" fill="rgb(255, 234, 252)"/>
<rect x="78.4" y="216.6" width="12.1" height="12.5" fill="rgb(255, 234, 252)"/>
<rect x="90.2" y="216.6" width="12.1" height="12.5" fill="rgb(255, 234, 252)"/>
<rect x="102.0" y="216.6" width="12.1" height="12.5" fill="rgb(255, 217, 249)"/>
<rect x="113.8" y="216.6" width="12.1" height="12.5" fill="rgb(255, 217, 249)"/>
<rect x="125.5" y="216.6" width="12.1" height="12.5" fill="rgb(255, 217, 249)"/>
<rect x="137.3" y="216.6" width="12.1" height="12.5" fill="rgb(195, 180, 253)"/>
<rect x="149.1" y="216.6" width="12.1" height="12.5" fill="rgb(155, 192, 255)"/>
<rect x="160.9" y="216.6" width="12.1" height="12.5" fill="rgb(93, 247, 96)"/>
<rect x="172.7" y="216.6" width="12.1" height="12.5" fill="rgb(118, 249, 75)"/>
<rect x="184.5" y="216.6" width="12.1" height="12.5" fill="rgb(182, 252, 62)"/>
<rect x="196.3" y="216.6" width="12.1" height="12.5" fill="rgb(237, 254, 52)"/>
<rect x="208.1" y="216.6" width="12.1" height="12.5" fill="rgb(255, 225, 42)"/>
<rect x="219.9" y="216.6" width="12.1" height="12.5" fill="rgb(255, 225, 42)"/>
<rect x="231.7" y="216.6" width="12.1" height="12.5" fill="rgb(255, 225, 42)"/>
<rect x="243.5" y="216.6" width="12.1" height="12.5" fill="rgb(237, 254, 52)"/>
<rect x="255.2" y="216.6" width="12.1" height="12.5" fill="rgb(237, 254, 52)"/>
<rect x="267.0" y="216.6" width="12.1" height="12.5" fill="rgb(182, 252, 62)"/>
<rect x="278.8" y="216.6" width="12.1" height="12.5" fill="rgb(182, 252, 62)"/>
<rect x="290.6" y="216.6" width="12.1" height="12.5" fill="rgb(93, 247, 96)"/>
<rect x="302.4" y="216.6" width="12.1" height="12.5" fill="rgb(143, 214, 255)"/>
<rect x="314.2" y="216.6" width="24.1" height="12.5" fill="rgb(143, 214, 255)"/>
<rect x="31.0" y="228.8" width="24.1" height="12.5" fill="rgb(255, 217, 249)"/>
<rect x="54.8" y="228.8" width="12.1" height="12.5" fill="rgb(255, 217, 249)"/>
<rect x="66.6" y="228.8" width="12.1" height="12.5" fill="rgb(255, 217, 249)"/>
<rect x="78.4" y="228.8" width="12.1" height="12.5" fill="rgb(255, 234, 252)"/>
<rect x="90.2" y="228.8" width="12.1" height="12.5" fill="rgb(255, 234, 252)"/>
<rect x="102.0" y="228.8" width="12.1" height="12.5" fill="rgb(255, 217, 249)"/>
<rect x="113.8" y="228.8" width="12.1" height="12.5" fill="rgb(255, 217, 249)"/>
<rect x="125.5" y="228.8" width="12.1" height="12.5" fill="rgb(255, 217, 249)"/>
<rect x="137.3" y="228.8" width="12.1" height="12.5" fill="rgb(195, 180, 253)"/>
<rect x="149.1" y="228.8" width="12.1" height="12.5" fill="rgb(162, 179, 255)"/>
<rect x="160.9" y="228.8" width="12.1" height="12.5" fill="rgb(143, 214, 255)"/>
<rect x="172.7" y="228.8" width="12.1" height="12.5" fill="rgb(110, 244, 170)"/>
<rect x="184.5" y="228.8" width="12.1" height="12.5" fill="rgb(237, 254, 52)"/>
<rect x="196.3" y="228.8" width="12.1" height="12.5" fill="rgb(255, 225, 42)"/>
<rect x="208.1" y="228.8" width="12.1" height="12.5" fill="rgb(255, 166, 29)"/>
<rect x="219.9" y="228.8" width="12.1" height="12.5" fill="rgb(255, 106, 16)"/>
<rect x="231.7" y="228.8" width="12.1" height="12.5" fill="rgb(255, 106, 16)"/>
<rect x="243.5" y="228.8" width="12.1" height="12.5" fill="rgb(255, 106, 16)"/>
<rect x="255.2" y="228.8" width="12.1" height="12.5" fill="rgb(255, 225, 42)"/>
<rect x="267.0" y="228.8" width="12.1" height="12.5" fill="rgb(255, 225, 42)"/>
<rect x="278.8" y="228.8" width="12.1" height="12.5" fill="rgb(237, 254, 52)"/>
<rect x="290.6" y="228.8" width="12.1" height="12.5" fill="rgb(140, 250, 70)"/>
<rect x="302.4" y="228.8" width="12.1" height="12.5" fill="rgb(140, 250, 70)"/>
<rect x="314.2" y="228.8" width="24.1" height="12.5" fill="rgb(140, 250, 70)"/>
<rect x="31.0" y="241.0" width="24.1" height="12.5" fill="rgb(195, 180, 253)"/>
<rect x="54.8" y="241.0" width="12.1" height="12.5" fill="rgb(195, 180, 253)"/>
<rect x="66.6" y="241.0" width="12.1" height="12.5" fill="rgb(195, 180, 253)"/>
<rect x="78.4" y="241.0" width="12.1" height="12.5" fill="rgb(255, 217, 249)"/>
<rect x="90.2" y="241.0" width="12.1" height="12.5" fill="rgb(255, 217, 249)"/>
<rect x="102.0" y="241.0" width="12.1" height="12.5" fill="rgb(255, 217, 249)"/>
<rect x="113.8" y="241.0" width="12.1" height="12.5" fill="rgb(255, 217, 249)"/>
<rect x="125.5" y="241.0" width="12.1" height="12.5" fill="rgb(195, 180, 253)"/>
<rect x="137.3" y="241.0" width="12.1" height="12.5" fill="rgb(195, 180, 253)"/>
<rect x="149.1" y="241.0" width="12.1" height="12.5" fill="rgb(162, 179, 255)"/>
<rect x="160.9" y="241.0" width="12.1" height="12.5" fill="rgb(128, 240, 255)"/>
<rect x="172.7" y="241.0" width="12.1" height="12.5" fill="rgb(118, 249, 75)"/>
<rect x="184.5" y="241.0" width="12.1" height="12.5" fill="rgb(255, 225, 42)"/>
<rect x="196.3" y="241.0" width="12.1" height="12.5" fill="rgb(255, 166, 29)"/>
<rect x="208.1" y="241.0" width="12.1" height="12.5" fill="rgb(255, 106, 16)"/>
<rect x="219.9" y="241.0" width="12.1" height="12.5" fill="rgb(255, 62, 6)"/>
<rect x="231.7" y="241.0" width="12.1" height="12.5" fill="rgb(255, 62, 6)"/>
<rect x="243.5" y="241.0" width="12.1" height="12.5" fill="rgb(255, 62, 6)"/>
<rect x="255.2" y="241.0" width="12.1" height="12.5" fill="rgb(255, 166, 29)"/>
<rect x="267.0" y="241.0" width="12.1" height="12.5" fill="rgb(255, 225, 42)"/>
<rect x="278.8" y="241.0" width="12.1" height="12.5" fill="rgb(255, 225, 42)"/>
<rect x="290.6" y="241.0" width="12.1" height="12.5" fill="rgb(237, 254, 52)"/>
<rect x="302.4" y="241.0" width="12.1" height="12.5" fill="rgb(237, 254, 52)"/>
<rect x="314.2" y="241.0" width="24.1" height="12.5" fill="rgb(237, 254, 52)"/>
<rect x="31.0" y="253.3" width="24.1" height="12.5" fill="rgb(195, 180, 253)"/>
<rect x="54.8" y="253.3" width="12.1" height="12.5" fill="rgb(195, 180, 253)"/>
<rect x="66.6" y="253.3" width="12.1" height="12.5" fill="rgb(195, 180, 253)"/>
<rect x="78.4" y="253.3" width="12.1" height="12.5" fill="rgb(255, 217, 249)"/>
<rect x="90.2" y="253.3" width="12.1" height="12.5" fill="rgb(255, 217, 249)"/>
<rect x="102.0" y="253.3" width="12.1" height="12.5" fill="rgb(162, 179, 255)"/>
<rect x="113.8" y="253.3" width="12.1" height="12.5" fill="rgb(195, 180, 253)"/>
<rect x="125.5" y="253.3" width="12.1" height="12.5" fill="rgb(195, 180, 253)"/>
<rect x="137.3" y="253.3" width="12.1" height="12.5" fill="rgb(162, 179, 255)"/>
<rect x="149.1" y="253.3" width="12.1" height="12.5" fill="rgb(128, 240, 255)"/>
<rect x="160.9" y="253.3" width="12.1" height="12.5" fill="rgb(110, 244, 170)"/>
<rect x="172.7" y="253.3" width="12.1" height="12.5" fill="rgb(118, 249, 75)"/>
<rect x="184.5" y="253.3" width="12.1" height="12.5" fill="rgb(255, 225, 42)"/>
<rect x="196.3" y="253.3" width="12.1" height="12.5" fill="rgb(255, 106, 16)"/>
<rect x="208.1" y="253.3" width="12.1" height="12.5" fill="rgb(255, 62, 6)"/>
<rect x="219.9" y="253.3" width="12.1" height="12.5" fill="rgb(255, 32, 0)"/>
<rect x="231.7" y="253.3" width="12.1" height="12.5" fill="rgb(255, 32, 0)"/>
<rect x="243.5" y="253.3" width="12.1" height="12.5" fill="rgb(255, 62, 6)"/>
<rect x="255.2" y="253.3" width="12.1" height="12.5" fill="rgb(255, 166, 29)"/>
<rect x="267.0" y="253.3" width="12.1" height="12.5" fill="rgb(255, 225, 42)"/>
<rect x="278.8" y="253.3" width="12.1" height="12.5" fill="rgb(255, 225, 42)"/>
<rect x="290.6" y="253.3" width="12.1" height="12.5" fill="rgb(237, 254, 52)"/>
<rect x="302.4" y="253.3" width="12.1" height="12.5" fill="rgb(237, 254, 52)"/>
<rect x="314.2" y="253.3" width="24.1" height="12.5" fill="rgb(237, 254, 52)"/>
<rect x="31.0" y="265.5" width="24.1" height="12.5" fill="rgb(195, 180, 253)"/>
<rect x="54.8" y="265.5" width="12.1" height="12.5" fill="rgb(195, 180, 253)"/>
<rect x="66.6" y="265.5" width="12.1" height="12.5" fill="rgb(195, 180, 253)"/>
<rect x="78.4" y="265.5" width="12.1" height="12.5" fill="rgb(255, 217, 249)"/>
<rect x="90.2" y="265.5" width="12.1" height="12.5" fill="rgb(195, 180, 253)"/>
<rect x="102.0" y="265.5" width="12.1" height="12.5" fill="rgb(195, 180, 253)"/>
<rect x="113.8" y="265.5" width="12.1" height="12.5" fill="rgb(155, 192, 255)"/>
<rect x="125.5" y="265.5" width="12.1" height="12.5" fill="rgb(143, 214, 255)"/>
<rect x="137.3" y="265.5" width="12.1" height="12.5" fill="rgb(128, 240, 255)"/>
<rect x="149.1" y="265.5" width="12.1" height="12.5" fill="rgb(93, 247, 96)"/>
<rect x="160.9" y="265.5" width="12.1" height="12.5" fill="rgb(140, 250, 70)"/>
<rect x="172.7" y="265.5" width="12.1" height="12.5" fill="rgb(182, 252, 62)"/>
<rect x="184.5" y="265.5" width="12.1" height="12.5" fill="rgb(255, 225, 42)"/>
<rect x="196.3" y="265.5" width="12.1" height="12.5" fill="rgb(255, 166, 29)"/>
<rect x="208.1" y="265.5" width="12.1" height="12.5" fill="rgb(255, 106, 16)"/>
<rect x="219.9" y="265.5" width="12.1" height="12.5" fill="rgb(255, 32, 0)"/>
<rect x="231.7" y="265.5" width="12.1" height="12.5" fill="rgb(255, 32, 0)"/>
<rect x="243.5" y="265.5" width="12.1" height="12.5" fill="rgb(255, 62, 6)"/>
<rect x="255.2" y="265.5" width="12.1" height="12.5" fill="rgb(255, 106, 16)"/>
<rect x="267.0" y="265.5" width="12.1" height="12.5" fill="rgb(255, 166, 29)"/>
<rect x="278.8" y="265.5" width="12.1" height="12.5" fill="rgb(255, 225, 42)"/>
<rect x="290.6" y="265.5" width="12.1" height="12.5" fill="rgb(255, 225, 42)"/>
<rect x="302.4" y="265.5" width="12.1" height="12.5" fill="rgb(255, 225, 42)"/>
<rect x="314.2" y="265.5" width="24.1" height="12.5" fill="rgb(255, 225, 42)"/>
<rect x="31.0" y="277.7" width="24.1" height="12.5" fill="rgb(195, 180, 253)"/>
<rect x="54.8" y="277.7" width="12.1" height="12.5" fill="rgb(195, 180, 253)"/>
<rect x="66.6" y="277.7" width="12.1" height="12.5" fill="rgb(195, 180, 253)"/>
<rect x="78.4" y="277.7" width="12.1" height="12.5" fill="rgb(255, 217, 249)"/>
<rect x="90.2" y="277.7" width="12.1" height="12.5" fill="rgb(195, 180, 253)"/>
<rect x="102.0" y="277.7" width="12.1" height="12.5" fill="rgb(195, 180, 253)"/>
<rect x="113.8" y="277.7" width="12.1" height="12.5" fill="rgb(155, 192, 255)"/>
<rect x="125.5" y="277.7" width="12.1" height="12.5" fill="rgb(155, 192, 255)"/>
<rect x="137.3" y="277.7" width="12.1" height="12.5" fill="rgb(143, 214, 255)"/>
<rect x="149.1" y="277.7" width="12.1" height="12.5" fill="rgb(118, 249, 75)"/>
<rect x="160.9" y="277.7" width="12.1" height="12.5" fill="rgb(140, 250, 70)"/>
<rect x="172.7" y="277.7" width="12.1" height="12.5" fill="rgb(182, 252, 62)"/>
<rect x="184.5" y="277.7" width="12.1" height="12.5" fill="rgb(255, 225, 42)"/>
<rect x="196.3" y="277.7" width="12.1" height="12.5" fill="rgb(255, 106, 16)"/>
<rect x="208.1" y="277.7" width="12.1" height="12.5" fill="rgb(255, 62, 6)"/>
<rect x="219.9" y="277.7" width="12.1" height="12.5" fill="rgb(255, 62, 6)"/>
<rect x="231.7" y="277.7" width="12.1" height="12.5" fill="rgb(255, 106, 16)"/>
<rect x="243.5" y="277.7" width="12.1" height="12.5" fill="rgb(255, 166, 29)"/>
<rect x="255.2" y="277.7" width="12.1" height="12.5" fill="rgb(255, 166, 29)"/>
<rect x="267.0" y="277.7" width="12.1" height="12.5" fill="rgb(255, 225, 42)"/>
<rect x="278.8" y="277.7" width="12.1" height="12.5" fill="rgb(255, 225, 42)"/>
<rect x="290.6" y="277.7" width="12.1" height="12.5" fill="rgb(255, 225, 42)"/>
<rect x="302.4" y="277.7" width="12.1" height="12.5" fill="rgb(255, 225, 42)"/>
<rect x="314.2" y="277.7" width="24.1" height="12.5" fill="rgb(255, 225, 42)"/>
<rect x="31.0" y="289.9" width="24.1" height="12.5" fill="rgb(195, 180, 253)"/>
<rect x="54.8" y="289.9" width="12.1" height="12.5" fill="rgb(195, 180, 253)"/>
<rect x="66.6" y="289.9" width="12.1" height="12.5" fill="rgb(195, 180, 253)"/>
<rect x="78.4" y="289.9" width="12.1" height="12.5" fill="rgb(255, 217, 249)"/>
<rect x="90.2" y="289.9" width="12.1" height="12.5" fill="rgb(195, 180, 253)"/>
<rect x="102.0" y="289.9" width="12.1" height="12.5" fill="rgb(195, 180, 253)"/>
<rect x="113.8" y="289.9" width="12.1" height="12.5" fill="rgb(155, 192, 255)"/>
<rect x="125.5" y="289.9" width="12.1" height="12.5" fill="rgb(155, 192, 255)"/>
<rect x="137.3" y="289.9" width="12.1" height="12.5" fill="rgb(143, 214, 255)"/>
<rect x="149.1" y="289.9" width="12.1" height="12.5" fill="rgb(118, 249, 75)"/>
<rect x="160.9" y="289.9" width="12.1" height="12.5" fill="rgb(140, 250, 70)"/>
<rect x="172.7" y="289.9" width="12.1" height="12.5" fill="rgb(182, 252, 62)"/>
<rect x="184.5" y="289.9" width="12.1" height="12.5" fill="rgb(255, 225, 42)"/>
<rect x="196.3" y="289.9" width="12.1" height="12.5" fill="rgb(255, 166, 29)"/>
<rect x="208.1" y="289.9" width="12.1" height="12.5" fill="rgb(255, 106, 16)"/>
<rect x="219.9" y="289.9" width="12.1" height="12.5" fill="rgb(255, 106, 16)"/>
<rect x="231.7" y="289.9" width="12.1" height="12.5" fill="rgb(255, 166, 29)"/>
<rect x="243.5" y="289.9" width="12.1" height="12.5" fill="rgb(255, 166, 29)"/>
<rect x="255.2" y="289.9" width="12.1" height="12.5" fill="rgb(255, 225, 42)"/>
<rect x="267.0" y="289.9" width="12.1" height="12.5" fill="rgb(255, 225, 42)"/>
<rect x="278.8" y="289.9" width="12.1" height="12.5" fill="rgb(255, 225, 42)"/>
<rect x="290.6" y="289.9" width="12.1" height="12.5" fill="rgb(255, 225, 42)"/>
<rect x="302.4" y="289.9" width="12.1" height="12.5" fill="rgb(255, 225, 42)"/>
<rect x="314.2" y="289.9" width="24.1" height="12.5" fill="rgb(255, 225, 42)"/>
<rect x="31.0" y="302.2" width="24.1" height="24.5" fill="rgb(195, 180, 253)"/>
<rect x="54.8" y="302.2" width="12.1" height="24.5" fill="rgb(195, 180, 253)"/>
<rect x="66.6" y="302.2" width="12.1" height="24.5" fill="rgb(195, 180, 253)"/>
<rect x="78.4" y="302.2" width="12.1" height="24.5" fill="rgb(255, 217, 249)"/>
<rect x="90.2" y="302.2" width="12.1" height="24.5" fill="rgb(195, 180, 253)"/>
<rect x="102.0" y="302.2" width="12.1" height="24.5" fill="rgb(195, 180, 253)"/>
<rect x="113.8" y="302.2" width="12.1" height="24.5" fill="rgb(155, 192, 255)"/>
<rect x="125.5" y="302.2" width="12.1" height="24.5" fill="rgb(155, 192, 255)"/>
<rect x="137.3" y="302.2" width="12.1" height="24.5" fill="rgb(143, 214, 255)"/>
<rect x="149.1" y="302.2" width="12.1" height="24.5" fill="rgb(118, 249, 75)"/>
<rect x="160.9" y="302.2" width="12.1" height="24.5" fill="rgb(140, 250, 70)"/>
<rect x="172.7" y="302.2" width="12.1" height="24.5" fill="rgb(237, 254, 52)"/>
<rect x="184.5" y="302.2" width="12.1" height="24.5" fill="rgb(237, 254, 52)"/>
<rect x="196.3" y="302.2" width="12.1" height="24.5" fill="rgb(255, 225, 42)"/>
<rect x="208.1" y="302.2" width="12.1" height="24.5" fill="rgb(255, 166, 29)"/>
<rect x="219.9" y="302.2" width="12.1" height="24.5" fill="rgb(255, 166, 29)"/>
<rect x="231.7" y="302.2" width="12.1" height="24.5" fill="rgb(255, 225, 42)"/>
<rect x="243.5" y="302.2" width="12.1" height="24.5" fill="rgb(255, 225, 42)"/>
<rect x="255.2" y="302.2" width="12.1" height="24.5" fill="rgb(255, 225, 42)"/>
<rect x="267.0" y="302.2" width="12.1" height="24.5" fill="rgb(255, 225, 42)"/>
<rect x="278.8" y="302.2" width="12.1" height="24.5" fill="rgb(255, 225, 42)"/>
<rect x="290.6" y="302.2" width="12.1" height="24.5" fill="rgb(255, 225, 42)"/>
<rect x="302.4" y="302.2" width="12.1" height="24.5" fill="rgb(255, 225, 42)"/>
<rect x="314.2" y="302.2" width="24.1" height="24.5" fill="rgb(255, 225, 42)"/>
</g>
<g filter="url(#sblur2)" opacity="0.6">
<polygon points="150,45 197,58 197,64 180,62 160,58 150,55" fill="#58f060"/>
<polygon points="200,66 222,72 222,79 210,77 200,73" fill="#58f060"/>
<polygon points="228,81 249,86 249,92 236,90 228,87" fill="#58f060"/>
<polygon points="252,93 275,99 275,105 262,103 252,99" fill="#58f060"/>
<polygon points="279,106 302,112 302,118 290,117 279,113" fill="#58f060"/>
</g>
<circle cx="226.8" cy="262.6" r="40" fill="url(#rblob)" filter="url(#sblur)"/>
<ellipse cx="190.6" cy="182.9" rx="11" ry="11" fill="url(#rspot)"/>
<ellipse cx="227.1" cy="185.5" rx="9.5" ry="9.5" fill="url(#rspot)"/>
<ellipse cx="214.8" cy="199.7" rx="11.5" ry="9" fill="url(#rspot)"/>
<ellipse cx="114.3" cy="123.3" rx="5.5" ry="5.5" fill="url(#spotG)"/>
<ellipse cx="136.2" cy="135.7" rx="5.5" ry="5" fill="url(#spotC)"/>
<ellipse cx="115.3" cy="149.7" rx="5" ry="5" fill="url(#spotC)"/>
<ellipse cx="78.9" cy="168.6" rx="7" ry="6" fill="url(#spotG)"/>
<ellipse cx="158.7" cy="169.6" rx="5" ry="5" fill="url(#spotY)"/>
<ellipse cx="150.2" cy="114.8" rx="5.5" ry="5.5" fill="url(#spotC)"/>
<ellipse cx="47" cy="215.3" rx="6" ry="7" fill="url(#spotG)"/>
<ellipse cx="233.5" cy="151.3" rx="5" ry="5" fill="url(#yspot)"/>
<ellipse cx="184.2" cy="220.6" rx="4.5" ry="4.5" fill="url(#yspot)"/>
<ellipse cx="193.2" cy="197.4" rx="5.5" ry="5.5" fill="url(#yspot)"/>
</g></g>
<rect x="403.6" y="45.4" width="295.79999999999995" height="269.0" fill="#fefbfc"/>
<rect x="486.79" y="56.16" width="9.29" height="10.81" fill="#fcf0f6"/>
<rect x="514.52" y="56.16" width="9.29" height="10.81" fill="#fcf0f6"/>
<rect x="486.79" y="66.92" width="9.29" height="10.81" fill="#fcf0f6"/>
<rect x="523.77" y="66.92" width="9.29" height="10.81" fill="#fcf0f6"/>
<rect x="533.01" y="66.92" width="9.29" height="10.81" fill="#fcf0f6"/>
<rect x="468.31" y="77.68" width="9.29" height="10.81" fill="#fcf0f6"/>
<rect x="486.79" y="77.68" width="9.29" height="10.81" fill="#fcf0f6"/>
<rect x="523.77" y="77.68" width="9.29" height="10.81" fill="#fcf0f6"/>
<rect x="533.01" y="77.68" width="9.29" height="10.81" fill="#fcf0f6"/>
<rect x="579.23" y="77.68" width="9.29" height="10.81" fill="#fcf0f6"/>
<rect x="468.31" y="88.44" width="9.29" height="10.81" fill="#fcf0f6"/>
<rect x="486.79" y="88.44" width="9.29" height="10.81" fill="#fcf0f6"/>
<rect x="496.04" y="88.44" width="9.29" height="10.81" fill="#fcf0f6"/>
<rect x="505.28" y="88.44" width="9.29" height="10.81" fill="#fcf0f6"/>
<rect x="514.52" y="88.44" width="9.29" height="10.81" fill="#fcf0f6"/>
<rect x="523.77" y="88.44" width="9.29" height="10.81" fill="#fcf0f6"/>
<rect x="542.26" y="88.44" width="9.29" height="10.81" fill="#f6d4f7"/>
<rect x="551.50" y="88.44" width="9.29" height="10.81" fill="#fcf0f6"/>
<rect x="560.74" y="88.44" width="9.29" height="10.81" fill="#fcf0f6"/>
<rect x="569.99" y="88.44" width="9.29" height="10.81" fill="#fcf0f6"/>
<rect x="579.23" y="88.44" width="9.29" height="10.81" fill="#fcf0f6"/>
<rect x="588.48" y="88.44" width="9.29" height="10.81" fill="#fbe4f6"/>
<rect x="606.96" y="88.44" width="9.29" height="10.81" fill="#fcf0f6"/>
<rect x="496.04" y="99.20" width="9.29" height="10.81" fill="#fbe4f6"/>
<rect x="505.28" y="99.20" width="9.29" height="10.81" fill="#fbe4f6"/>
<rect x="514.52" y="99.20" width="9.29" height="10.81" fill="#fbe4f6"/>
<rect x="523.77" y="99.20" width="9.29" height="10.81" fill="#fbe4f6"/>
<rect x="533.01" y="99.20" width="9.29" height="10.81" fill="#fbe4f6"/>
<rect x="542.26" y="99.20" width="9.29" height="10.81" fill="#fcf0f6"/>
<rect x="551.50" y="99.20" width="9.29" height="10.81" fill="#fbe4f6"/>
<rect x="560.74" y="99.20" width="9.29" height="10.81" fill="#fcf0f6"/>
<rect x="569.99" y="99.20" width="9.29" height="10.81" fill="#fcf0f6"/>
<rect x="588.48" y="99.20" width="9.29" height="10.81" fill="#fcf0f6"/>
<rect x="597.72" y="99.20" width="9.29" height="10.81" fill="#fcf0f6"/>
<rect x="606.96" y="99.20" width="9.29" height="10.81" fill="#fcf0f6"/>
<rect x="616.21" y="99.20" width="9.29" height="10.81" fill="#fcf0f6"/>
<rect x="459.06" y="109.96" width="9.29" height="10.81" fill="#fcf0f6"/>
<rect x="468.31" y="109.96" width="9.29" height="10.81" fill="#fcf0f6"/>
<rect x="496.04" y="109.96" width="9.29" height="10.81" fill="#fcf0f6"/>
<rect x="505.28" y="109.96" width="9.29" height="10.81" fill="#fbe4f6"/>
<rect x="514.52" y="109.96" width="9.29" height="10.81" fill="#fbe4f6"/>
<rect x="523.77" y="109.96" width="9.29" height="10.81" fill="#f6d4f7"/>
<rect x="533.01" y="109.96" width="9.29" height="10.81" fill="#eccaf8"/>
<rect x="542.26" y="109.96" width="9.29" height="10.81" fill="#fcf0f6"/>
<rect x="551.50" y="109.96" width="9.29" height="10.81" fill="#f6d4f7"/>
<rect x="560.74" y="109.96" width="9.29" height="10.81" fill="#fbe4f6"/>
<rect x="579.23" y="109.96" width="9.29" height="10.81" fill="#fcf0f6"/>
<rect x="588.48" y="109.96" width="9.29" height="10.81" fill="#fbe4f6"/>
<rect x="597.72" y="109.96" width="9.29" height="10.81" fill="#fcf0f6"/>
<rect x="606.96" y="109.96" width="9.29" height="10.81" fill="#fbe4f6"/>
<rect x="616.21" y="109.96" width="9.29" height="10.81" fill="#fcf0f6"/>
<rect x="625.45" y="109.96" width="9.29" height="10.81" fill="#fcf0f6"/>
<rect x="653.18" y="109.96" width="9.29" height="10.81" fill="#fcf0f6"/>
<rect x="671.67" y="109.96" width="9.29" height="10.81" fill="#fcf0f6"/>
<rect x="459.06" y="120.72" width="9.29" height="10.81" fill="#fcf0f6"/>
<rect x="496.04" y="120.72" width="9.29" height="10.81" fill="#fbe4f6"/>
<rect x="505.28" y="120.72" width="9.29" height="10.81" fill="#f6d4f7"/>
<rect x="514.52" y="120.72" width="9.29" height="10.81" fill="#fbe4f6"/>
<rect x="523.77" y="120.72" width="9.29" height="10.81" fill="#c8b3fa"/>
<rect x="533.01" y="120.72" width="9.29" height="10.81" fill="#f6d4f7"/>
<rect x="542.26" y="120.72" width="9.29" height="10.81" fill="#fcf0f6"/>
<rect x="551.50" y="120.72" width="9.29" height="10.81" fill="#fbe4f6"/>
<rect x="560.74" y="120.72" width="9.29" height="10.81" fill="#fcf0f6"/>
<rect x="569.99" y="120.72" width="9.29" height="10.81" fill="#fcf0f6"/>
<rect x="579.23" y="120.72" width="9.29" height="10.81" fill="#fcf0f6"/>
<rect x="588.48" y="120.72" width="9.29" height="10.81" fill="#f6d4f7"/>
<rect x="597.72" y="120.72" width="9.29" height="10.81" fill="#eccaf8"/>
<rect x="606.96" y="120.72" width="9.29" height="10.81" fill="#fbe4f6"/>
<rect x="616.21" y="120.72" width="9.29" height="10.81" fill="#fcf0f6"/>
<rect x="625.45" y="120.72" width="9.29" height="10.81" fill="#fcf0f6"/>
<rect x="634.69" y="120.72" width="9.29" height="10.81" fill="#fcf0f6"/>
<rect x="653.18" y="120.72" width="9.29" height="10.81" fill="#fcf0f6"/>
<rect x="662.42" y="120.72" width="9.29" height="10.81" fill="#fcf0f6"/>
<rect x="468.31" y="131.48" width="9.29" height="10.81" fill="#fbe4f6"/>
<rect x="496.04" y="131.48" width="9.29" height="10.81" fill="#fbe4f6"/>
<rect x="505.28" y="131.48" width="9.29" height="10.81" fill="#fbe4f6"/>
<rect x="514.52" y="131.48" width="9.29" height="10.81" fill="#fbe4f6"/>
<rect x="523.77" y="131.48" width="9.29" height="10.81" fill="#fbe4f6"/>
<rect x="533.01" y="131.48" width="9.29" height="10.81" fill="#f6d4f7"/>
<rect x="542.26" y="131.48" width="9.29" height="10.81" fill="#fcf0f6"/>
<rect x="551.50" y="131.48" width="9.29" height="10.81" fill="#fbe4f6"/>
<rect x="560.74" y="131.48" width="9.29" height="10.81" fill="#fbe4f6"/>
<rect x="569.99" y="131.48" width="9.29" height="10.81" fill="#fbe4f6"/>
<rect x="579.23" y="131.48" width="9.29" height="10.81" fill="#fbe4f6"/>
<rect x="588.48" y="131.48" width="9.29" height="10.81" fill="#fbe4f6"/>
<rect x="597.72" y="131.48" width="9.29" height="10.81" fill="#fbe4f6"/>
<rect x="606.96" y="131.48" width="9.29" height="10.81" fill="#fbe4f6"/>
<rect x="616.21" y="131.48" width="9.29" height="10.81" fill="#fbe4f6"/>
<rect x="625.45" y="131.48" width="9.29" height="10.81" fill="#eccaf8"/>
<rect x="634.69" y="131.48" width="9.29" height="10.81" fill="#fbe4f6"/>
<rect x="643.94" y="131.48" width="9.29" height="10.81" fill="#fcf0f6"/>
<rect x="653.18" y="131.48" width="9.29" height="10.81" fill="#fcf0f6"/>
<rect x="671.67" y="131.48" width="9.29" height="10.81" fill="#fbe4f6"/>
<rect x="680.91" y="131.48" width="9.29" height="10.81" fill="#fcf0f6"/>
<rect x="440.58" y="142.24" width="9.29" height="10.81" fill="#fcf0f6"/>
<rect x="468.31" y="142.24" width="9.29" height="10.81" fill="#fbe4f6"/>
<rect x="477.55" y="142.24" width="9.29" height="10.81" fill="#f6d4f7"/>
<rect x="486.79" y="142.24" width="9.29" height="10.81" fill="#fcf0f6"/>
<rect x="496.04" y="142.24" width="9.29" height="10.81" fill="#fcf0f6"/>
<rect x="505.28" y="142.24" width="9.29" height="10.81" fill="#fcf0f6"/>
<rect x="514.52" y="142.24" width="9.29" height="10.81" fill="#fcf0f6"/>
<rect x="523.77" y="142.24" width="9.29" height="10.81" fill="#fbe4f6"/>
<rect x="533.01" y="142.24" width="9.29" height="10.81" fill="#f6d4f7"/>
<rect x="542.26" y="142.24" width="9.29" height="10.81" fill="#f6d4f7"/>
<rect x="551.50" y="142.24" width="9.29" height="10.81" fill="#f6d4f7"/>
<rect x="560.74" y="142.24" width="9.29" height="10.81" fill="#f6d4f7"/>
<rect x="569.99" y="142.24" width="9.29" height="10.81" fill="#eccaf8"/>
<rect x="579.23" y="142.24" width="9.29" height="10.81" fill="#dcbcf9"/>
<rect x="588.48" y="142.24" width="9.29" height="10.81" fill="#c8b3fa"/>
<rect x="597.72" y="142.24" width="9.29" height="10.81" fill="#dcbcf9"/>
<rect x="606.96" y="142.24" width="9.29" height="10.81" fill="#f6d4f7"/>
<rect x="616.21" y="142.24" width="9.29" height="10.81" fill="#fbe4f6"/>
<rect x="625.45" y="142.24" width="9.29" height="10.81" fill="#f6d4f7"/>
<rect x="634.69" y="142.24" width="9.29" height="10.81" fill="#fcf0f6"/>
<rect x="643.94" y="142.24" width="9.29" height="10.81" fill="#fcf0f6"/>
<rect x="653.18" y="142.24" width="9.29" height="10.81" fill="#fcf0f6"/>
<rect x="662.42" y="142.24" width="9.29" height="10.81" fill="#fbe4f6"/>
<rect x="671.67" y="142.24" width="9.29" height="10.81" fill="#fbe4f6"/>
<rect x="680.91" y="142.24" width="9.29" height="10.81" fill="#fcf0f6"/>
<rect x="440.58" y="153.00" width="9.29" height="10.81" fill="#fcf0f6"/>
<rect x="459.06" y="153.00" width="9.29" height="10.81" fill="#fcf0f6"/>
<rect x="468.31" y="153.00" width="9.29" height="10.81" fill="#fbe4f6"/>
<rect x="477.55" y="153.00" width="9.29" height="10.81" fill="#fbe4f6"/>
<rect x="486.79" y="153.00" width="9.29" height="10.81" fill="#fbe4f6"/>
<rect x="496.04" y="153.00" width="9.29" height="10.81" fill="#fcf0f6"/>
<rect x="514.52" y="153.00" width="9.29" height="10.81" fill="#fcf0f6"/>
<rect x="523.77" y="153.00" width="9.29" height="10.81" fill="#f6d4f7"/>
<rect x="533.01" y="153.00" width="9.29" height="10.81" fill="#eccaf8"/>
<rect x="542.26" y="153.00" width="9.29" height="10.81" fill="#fbe4f6"/>
<rect x="551.50" y="153.00" width="9.29" height="10.81" fill="#eccaf8"/>
<rect x="560.74" y="153.00" width="9.29" height="10.81" fill="#fbe4f6"/>
<rect x="569.99" y="153.00" width="9.29" height="10.81" fill="#c8b3fa"/>
<rect x="579.23" y="153.00" width="9.29" height="10.81" fill="#c8b3fa"/>
<rect x="588.48" y="153.00" width="9.29" height="10.81" fill="#c8b3fa"/>
<rect x="597.72" y="153.00" width="9.29" height="10.81" fill="#dcbcf9"/>
<rect x="606.96" y="153.00" width="9.29" height="10.81" fill="#fbe4f6"/>
<rect x="616.21" y="153.00" width="9.29" height="10.81" fill="#eccaf8"/>
<rect x="625.45" y="153.00" width="9.29" height="10.81" fill="#fbe4f6"/>
<rect x="634.69" y="153.00" width="9.29" height="10.81" fill="#fcf0f6"/>
<rect x="643.94" y="153.00" width="9.29" height="10.81" fill="#fcf0f6"/>
<rect x="662.42" y="153.00" width="9.29" height="10.81" fill="#f6d4f7"/>
<rect x="671.67" y="153.00" width="9.29" height="10.81" fill="#f6d4f7"/>
<rect x="680.91" y="153.00" width="9.29" height="10.81" fill="#fcf0f6"/>
<rect x="690.16" y="153.00" width="9.29" height="10.81" fill="#fcf0f6"/>
<rect x="440.58" y="163.76" width="9.29" height="10.81" fill="#fcf0f6"/>
<rect x="468.31" y="163.76" width="9.29" height="10.81" fill="#fbe4f6"/>
<rect x="477.55" y="163.76" width="9.29" height="10.81" fill="#c8b3fa"/>
<rect x="486.79" y="163.76" width="9.29" height="10.81" fill="#f6d4f7"/>
<rect x="496.04" y="163.76" width="9.29" height="10.81" fill="#fcf0f6"/>
<rect x="514.52" y="163.76" width="9.29" height="10.81" fill="#fcf0f6"/>
<rect x="523.77" y="163.76" width="9.29" height="10.81" fill="#f6d4f7"/>
<rect x="533.01" y="163.76" width="9.29" height="10.81" fill="#f6d4f7"/>
<rect x="542.26" y="163.76" width="9.29" height="10.81" fill="#fbe4f6"/>
<rect x="551.50" y="163.76" width="9.29" height="10.81" fill="#dcbcf9"/>
<rect x="579.23" y="163.76" width="9.29" height="10.81" fill="#fbe4f6"/>
<rect x="588.48" y="163.76" width="9.29" height="10.81" fill="#fbe4f6"/>
<rect x="597.72" y="163.76" width="9.29" height="10.81" fill="#fbe4f6"/>
<rect x="606.96" y="163.76" width="9.29" height="10.81" fill="#fcf0f6"/>
<rect x="616.21" y="163.76" width="9.29" height="10.81" fill="#fbe4f6"/>
<rect x="625.45" y="163.76" width="9.29" height="10.81" fill="#fbe4f6"/>
<rect x="634.69" y="163.76" width="9.29" height="10.81" fill="#fcf0f6"/>
<rect x="643.94" y="163.76" width="9.29" height="10.81" fill="#fbe4f6"/>
<rect x="653.18" y="163.76" width="9.29" height="10.81" fill="#fcf0f6"/>
<rect x="662.42" y="163.76" width="9.29" height="10.81" fill="#fcf0f6"/>
<rect x="671.67" y="163.76" width="9.29" height="10.81" fill="#fcf0f6"/>
<rect x="680.91" y="163.76" width="9.29" height="10.81" fill="#fcf0f6"/>
<rect x="690.16" y="163.76" width="9.29" height="10.81" fill="#fbe4f6"/>
<rect x="459.06" y="174.52" width="9.29" height="10.81" fill="#fcf0f6"/>
<rect x="468.31" y="174.52" width="9.29" height="10.81" fill="#fcf0f6"/>
<rect x="477.55" y="174.52" width="9.29" height="10.81" fill="#fcf0f6"/>
<rect x="486.79" y="174.52" width="9.29" height="10.81" fill="#fcf0f6"/>
<rect x="496.04" y="174.52" width="9.29" height="10.81" fill="#fcf0f6"/>
<rect x="505.28" y="174.52" width="9.29" height="10.81" fill="#fcf0f6"/>
<rect x="514.52" y="174.52" width="9.29" height="10.81" fill="#fbe4f6"/>
<rect x="523.77" y="174.52" width="9.29" height="10.81" fill="#eccaf8"/>
<rect x="533.01" y="174.52" width="9.29" height="10.81" fill="#f6d4f7"/>
<rect x="542.26" y="174.52" width="9.29" height="10.81" fill="#c8b3fa"/>
<rect x="551.50" y="174.52" width="9.29" height="10.81" fill="#70f070"/>
<rect x="560.74" y="174.52" width="9.29" height="10.81" fill="#f6d4f7"/>
<rect x="569.99" y="174.52" width="9.29" height="10.81" fill="#fbe4f6"/>
<rect x="579.23" y="174.52" width="9.29" height="10.81" fill="#fcf0f6"/>
<rect x="588.48" y="174.52" width="9.29" height="10.81" fill="#c8b3fa"/>
<rect x="597.72" y="174.52" width="9.29" height="10.81" fill="#fbe4f6"/>
<rect x="606.96" y="174.52" width="9.29" height="10.81" fill="#fcf0f6"/>
<rect x="616.21" y="174.52" width="9.29" height="10.81" fill="#f6d4f7"/>
<rect x="625.45" y="174.52" width="9.29" height="10.81" fill="#f6d4f7"/>
<rect x="634.69" y="174.52" width="9.29" height="10.81" fill="#fbe4f6"/>
<rect x="643.94" y="174.52" width="9.29" height="10.81" fill="#eccaf8"/>
<rect x="653.18" y="174.52" width="9.29" height="10.81" fill="#fcf0f6"/>
<rect x="662.42" y="174.52" width="9.29" height="10.81" fill="#fcf0f6"/>
<rect x="671.67" y="174.52" width="9.29" height="10.81" fill="#fcf0f6"/>
<rect x="690.16" y="174.52" width="9.29" height="10.81" fill="#fcf0f6"/>
<rect x="459.06" y="185.28" width="9.29" height="10.81" fill="#fcf0f6"/>
<rect x="468.31" y="185.28" width="9.29" height="10.81" fill="#fcf0f6"/>
<rect x="486.79" y="185.28" width="9.29" height="10.81" fill="#fbe4f6"/>
<rect x="496.04" y="185.28" width="9.29" height="10.81" fill="#f6d4f7"/>
<rect x="505.28" y="185.28" width="9.29" height="10.81" fill="#fbe4f6"/>
<rect x="514.52" y="185.28" width="9.29" height="10.81" fill="#fcf0f6"/>
<rect x="523.77" y="185.28" width="9.29" height="10.81" fill="#f6d4f7"/>
<rect x="533.01" y="185.28" width="9.29" height="10.81" fill="#f6d4f7"/>
<rect x="542.26" y="185.28" width="9.29" height="10.81" fill="#86e2fa"/>
<rect x="551.50" y="185.28" width="9.29" height="10.81" fill="#b0aafc"/>
<rect x="560.74" y="185.28" width="9.29" height="10.81" fill="#f6d4f7"/>
<rect x="569.99" y="185.28" width="9.29" height="10.81" fill="#9cb4fc"/>
<rect x="579.23" y="185.28" width="9.29" height="10.81" fill="#fbe4f6"/>
<rect x="588.48" y="185.28" width="9.29" height="10.81" fill="#fbe4f6"/>
<rect x="597.72" y="185.28" width="9.29" height="10.81" fill="#fcf0f6"/>
<rect x="606.96" y="185.28" width="9.29" height="10.81" fill="#fbe4f6"/>
<rect x="616.21" y="185.28" width="9.29" height="10.81" fill="#f6d4f7"/>
<rect x="625.45" y="185.28" width="9.29" height="10.81" fill="#dcbcf9"/>
<rect x="634.69" y="185.28" width="9.29" height="10.81" fill="#eccaf8"/>
<rect x="643.94" y="185.28" width="9.29" height="10.81" fill="#fbe4f6"/>
<rect x="653.18" y="185.28" width="9.29" height="10.81" fill="#fcf0f6"/>
<rect x="662.42" y="185.28" width="9.29" height="10.81" fill="#fbe4f6"/>
<rect x="671.67" y="185.28" width="9.29" height="10.81" fill="#fbe4f6"/>
<rect x="680.91" y="185.28" width="9.29" height="10.81" fill="#fcf0f6"/>
<rect x="431.33" y="196.04" width="9.29" height="10.81" fill="#fcf0f6"/>
<rect x="459.06" y="196.04" width="9.29" height="10.81" fill="#fcf0f6"/>
<rect x="468.31" y="196.04" width="9.29" height="10.81" fill="#fcf0f6"/>
<rect x="486.79" y="196.04" width="9.29" height="10.81" fill="#fbe4f6"/>
<rect x="496.04" y="196.04" width="9.29" height="10.81" fill="#fbe4f6"/>
<rect x="505.28" y="196.04" width="9.29" height="10.81" fill="#f6d4f7"/>
<rect x="514.52" y="196.04" width="9.29" height="10.81" fill="#fcf0f6"/>
<rect x="523.77" y="196.04" width="9.29" height="10.81" fill="#f6d4f7"/>
<rect x="533.01" y="196.04" width="9.29" height="10.81" fill="#f6d4f7"/>
<rect x="542.26" y="196.04" width="9.29" height="10.81" fill="#b0aafc"/>
<rect x="551.50" y="196.04" width="9.29" height="10.81" fill="#ff2010"/>
<rect x="560.74" y="196.04" width="9.29" height="10.81" fill="#9cb4fc"/>
<rect x="569.99" y="196.04" width="9.29" height="10.81" fill="#fbe4f6"/>
<rect x="579.23" y="196.04" width="9.29" height="10.81" fill="#eccaf8"/>
<rect x="588.48" y="196.04" width="9.29" height="10.81" fill="#fbe4f6"/>
<rect x="597.72" y="196.04" width="9.29" height="10.81" fill="#fcf0f6"/>
<rect x="606.96" y="196.04" width="9.29" height="10.81" fill="#fbe4f6"/>
<rect x="616.21" y="196.04" width="9.29" height="10.81" fill="#f6d4f7"/>
<rect x="625.45" y="196.04" width="9.29" height="10.81" fill="#c8b3fa"/>
<rect x="634.69" y="196.04" width="9.29" height="10.81" fill="#eccaf8"/>
<rect x="643.94" y="196.04" width="9.29" height="10.81" fill="#fbe4f6"/>
<rect x="653.18" y="196.04" width="9.29" height="10.81" fill="#fbe4f6"/>
<rect x="662.42" y="196.04" width="9.29" height="10.81" fill="#fcf0f6"/>
<rect x="671.67" y="196.04" width="9.29" height="10.81" fill="#fcf0f6"/>
<rect x="449.82" y="206.80" width="9.29" height="10.81" fill="#fcf0f6"/>
<rect x="459.06" y="206.80" width="9.29" height="10.81" fill="#fcf0f6"/>
<rect x="468.31" y="206.80" width="9.29" height="10.81" fill="#fcf0f6"/>
<rect x="486.79" y="206.80" width="9.29" height="10.81" fill="#fcf0f6"/>
<rect x="496.04" y="206.80" width="9.29" height="10.81" fill="#fbe4f6"/>
<rect x="505.28" y="206.80" width="9.29" height="10.81" fill="#fbe4f6"/>
<rect x="514.52" y="206.80" width="9.29" height="10.81" fill="#fcf0f6"/>
<rect x="523.77" y="206.80" width="9.29" height="10.81" fill="#f6d4f7"/>
<rect x="533.01" y="206.80" width="9.29" height="10.81" fill="#f6d4f7"/>
<rect x="542.26" y="206.80" width="9.29" height="10.81" fill="#f6d4f7"/>
<rect x="551.50" y="206.80" width="9.29" height="10.81" fill="#f6d4f7"/>
<rect x="560.74" y="206.80" width="9.29" height="10.81" fill="#f6d4f7"/>
<rect x="569.99" y="206.80" width="9.29" height="10.81" fill="#fbe4f6"/>
<rect x="579.23" y="206.80" width="9.29" height="10.81" fill="#fbe4f6"/>
<rect x="588.48" y="206.80" width="9.29" height="10.81" fill="#f6d4f7"/>
<rect x="597.72" y="206.80" width="9.29" height="10.81" fill="#fcf0f6"/>
<rect x="606.96" y="206.80" width="9.29" height="10.81" fill="#fbe4f6"/>
<rect x="616.21" y="206.80" width="9.29" height="10.81" fill="#fbe4f6"/>
<rect x="625.45" y="206.80" width="9.29" height="10.81" fill="#fbe4f6"/>
<rect x="634.69" y="206.80" width="9.29" height="10.81" fill="#fcf0f6"/>
<rect x="643.94" y="206.80" width="9.29" height="10.81" fill="#fcf0f6"/>
<rect x="653.18" y="206.80" width="9.29" height="10.81" fill="#fcf0f6"/>
<rect x="662.42" y="206.80" width="9.29" height="10.81" fill="#fcf0f6"/>
<rect x="449.82" y="217.56" width="9.29" height="10.81" fill="#fcf0f6"/>
<rect x="459.06" y="217.56" width="9.29" height="10.81" fill="#fcf0f6"/>
<rect x="486.79" y="217.56" width="9.29" height="10.81" fill="#fcf0f6"/>
<rect x="496.04" y="217.56" width="9.29" height="10.81" fill="#fcf0f6"/>
<rect x="505.28" y="217.56" width="9.29" height="10.81" fill="#fcf0f6"/>
<rect x="514.52" y="217.56" width="9.29" height="10.81" fill="#fcf0f6"/>
<rect x="523.77" y="217.56" width="9.29" height="10.81" fill="#fbe4f6"/>
<rect x="533.01" y="217.56" width="9.29" height="10.81" fill="#fcf0f6"/>
<rect x="542.26" y="217.56" width="9.29" height="10.81" fill="#fcf0f6"/>
<rect x="551.50" y="217.56" width="9.29" height="10.81" fill="#fbe4f6"/>
<rect x="560.74" y="217.56" width="9.29" height="10.81" fill="#fcf0f6"/>
<rect x="569.99" y="217.56" width="9.29" height="10.81" fill="#fcf0f6"/>
<rect x="579.23" y="217.56" width="9.29" height="10.81" fill="#fbe4f6"/>
<rect x="588.48" y="217.56" width="9.29" height="10.81" fill="#f6d4f7"/>
<rect x="597.72" y="217.56" width="9.29" height="10.81" fill="#fcf0f6"/>
<rect x="606.96" y="217.56" width="9.29" height="10.81" fill="#fcf0f6"/>
<rect x="616.21" y="217.56" width="9.29" height="10.81" fill="#f6d4f7"/>
<rect x="625.45" y="217.56" width="9.29" height="10.81" fill="#fcf0f6"/>
<rect x="634.69" y="217.56" width="9.29" height="10.81" fill="#fcf0f6"/>
<rect x="653.18" y="217.56" width="9.29" height="10.81" fill="#fcf0f6"/>
<rect x="459.06" y="228.32" width="9.29" height="10.81" fill="#fcf0f6"/>
<rect x="486.79" y="228.32" width="9.29" height="10.81" fill="#fcf0f6"/>
<rect x="496.04" y="228.32" width="9.29" height="10.81" fill="#fcf0f6"/>
<rect x="505.28" y="228.32" width="9.29" height="10.81" fill="#fbe4f6"/>
<rect x="514.52" y="228.32" width="9.29" height="10.81" fill="#fbe4f6"/>
<rect x="523.77" y="228.32" width="9.29" height="10.81" fill="#fcf0f6"/>
<rect x="533.01" y="228.32" width="9.29" height="10.81" fill="#fcf0f6"/>
<rect x="542.26" y="228.32" width="9.29" height="10.81" fill="#fcf0f6"/>
<rect x="551.50" y="228.32" width="9.29" height="10.81" fill="#fcf0f6"/>
<rect x="560.74" y="228.32" width="9.29" height="10.81" fill="#fbe4f6"/>
<rect x="569.99" y="228.32" width="9.29" height="10.81" fill="#fcf0f6"/>
<rect x="579.23" y="228.32" width="9.29" height="10.81" fill="#fbe4f6"/>
<rect x="597.72" y="228.32" width="9.29" height="10.81" fill="#fcf0f6"/>
<rect x="616.21" y="228.32" width="9.29" height="10.81" fill="#fcf0f6"/>
<rect x="625.45" y="228.32" width="9.29" height="10.81" fill="#fcf0f6"/>
<rect x="634.69" y="228.32" width="9.29" height="10.81" fill="#fcf0f6"/>
<rect x="505.28" y="239.08" width="9.29" height="10.81" fill="#fbe4f6"/>
<rect x="514.52" y="239.08" width="9.29" height="10.81" fill="#fcf0f6"/>
<rect x="523.77" y="239.08" width="9.29" height="10.81" fill="#fcf0f6"/>
<rect x="533.01" y="239.08" width="9.29" height="10.81" fill="#fcf0f6"/>
<rect x="542.26" y="239.08" width="9.29" height="10.81" fill="#fcf0f6"/>
<rect x="551.50" y="239.08" width="9.29" height="10.81" fill="#eccaf8"/>
<rect x="560.74" y="239.08" width="9.29" height="10.81" fill="#fcf0f6"/>
<rect x="569.99" y="239.08" width="9.29" height="10.81" fill="#fbe4f6"/>
<rect x="579.23" y="239.08" width="9.29" height="10.81" fill="#f6d4f7"/>
<rect x="616.21" y="239.08" width="9.29" height="10.81" fill="#fcf0f6"/>
<rect x="625.45" y="239.08" width="9.29" height="10.81" fill="#fcf0f6"/>
<rect x="634.69" y="239.08" width="9.29" height="10.81" fill="#fcf0f6"/>
<rect x="496.04" y="249.84" width="9.29" height="10.81" fill="#fbe4f6"/>
<rect x="505.28" y="249.84" width="9.29" height="10.81" fill="#fcf0f6"/>
<rect x="514.52" y="249.84" width="9.29" height="10.81" fill="#fcf0f6"/>
<rect x="523.77" y="249.84" width="9.29" height="10.81" fill="#fcf0f6"/>
<rect x="533.01" y="249.84" width="9.29" height="10.81" fill="#fcf0f6"/>
<rect x="542.26" y="249.84" width="9.29" height="10.81" fill="#fcf0f6"/>
<rect x="551.50" y="249.84" width="9.29" height="10.81" fill="#c8b3fa"/>
<rect x="560.74" y="249.84" width="9.29" height="10.81" fill="#fcf0f6"/>
<rect x="569.99" y="249.84" width="9.29" height="10.81" fill="#fcf0f6"/>
<rect x="579.23" y="249.84" width="9.29" height="10.81" fill="#f6d4f7"/>
<rect x="616.21" y="249.84" width="9.29" height="10.81" fill="#fcf0f6"/>
<rect x="625.45" y="249.84" width="9.29" height="10.81" fill="#fcf0f6"/>
<rect x="514.52" y="260.60" width="9.29" height="10.81" fill="#fcf0f6"/>
<rect x="523.77" y="260.60" width="9.29" height="10.81" fill="#fcf0f6"/>
<rect x="533.01" y="260.60" width="9.29" height="10.81" fill="#fcf0f6"/>
<rect x="542.26" y="260.60" width="9.29" height="10.81" fill="#fcf0f6"/>
<rect x="551.50" y="260.60" width="9.29" height="10.81" fill="#fbe4f6"/>
<rect x="560.74" y="260.60" width="9.29" height="10.81" fill="#fcf0f6"/>
<rect x="569.99" y="260.60" width="9.29" height="10.81" fill="#fcf0f6"/>
<rect x="579.23" y="260.60" width="9.29" height="10.81" fill="#fbe4f6"/>
<rect x="597.72" y="260.60" width="9.29" height="10.81" fill="#fbe4f6"/>
<rect x="625.45" y="260.60" width="9.29" height="10.81" fill="#fbe4f6"/>
<rect x="533.01" y="271.36" width="9.29" height="10.81" fill="#fbe4f6"/>
<rect x="542.26" y="271.36" width="9.29" height="10.81" fill="#fcf0f6"/>
<rect x="551.50" y="271.36" width="9.29" height="10.81" fill="#fcf0f6"/>
<rect x="560.74" y="271.36" width="9.29" height="10.81" fill="#fcf0f6"/>
<rect x="569.99" y="271.36" width="9.29" height="10.81" fill="#fbe4f6"/>
<rect x="579.23" y="271.36" width="9.29" height="10.81" fill="#fbe4f6"/>
<rect x="616.21" y="271.36" width="9.29" height="10.81" fill="#fcf0f6"/>
<rect x="542.26" y="282.12" width="9.29" height="10.81" fill="#fcf0f6"/>
<rect x="551.50" y="282.12" width="9.29" height="10.81" fill="#fcf0f6"/>
<rect x="560.74" y="282.12" width="9.29" height="10.81" fill="#fbe4f6"/>
<rect x="569.99" y="282.12" width="9.29" height="10.81" fill="#fcf0f6"/>
<rect x="579.23" y="282.12" width="9.29" height="10.81" fill="#fcf0f6"/>
<rect x="606.96" y="282.12" width="9.29" height="10.81" fill="#fcf0f6"/>
<rect x="625.45" y="282.12" width="9.29" height="10.81" fill="#fcf0f6"/>
<rect x="560.74" y="292.88" width="9.29" height="10.81" fill="#fbe4f6"/>
<rect x="569.99" y="292.88" width="9.29" height="10.81" fill="#fcf0f6"/>
<rect x="579.23" y="292.88" width="9.29" height="10.81" fill="#fcf0f6"/>
<polygon points="525.5,65.2 534.9,68.2 528.3,76" fill="none" stroke="#707070" stroke-width="0.8" stroke-linejoin="round"/>
<polygon points="538.2,90.2 546.4,85 552.8,89.7 546.4,94.4" fill="none" stroke="#707070" stroke-width="0.8" stroke-linejoin="round"/>
<polygon points="548.3,112.5 557,105.4 565.2,107.1 568,112.5 566.2,119.8 560,120.8 555.8,118.8" fill="none" stroke="#707070" stroke-width="0.8" stroke-linejoin="round"/>
<polygon points="610.3,100.3 614.4,98.2 617.5,101.3 613.8,109.5" fill="none" stroke="#707070" stroke-width="0.8" stroke-linejoin="round"/>
<polygon points="467.9,112.1 470.7,109.5 473.8,112.1 470.7,114.9" fill="none" stroke="#707070" stroke-width="0.8" stroke-linejoin="round"/>
<polygon points="682.6,134.7 688.9,132 691.8,134.7 689.6,137.3 685.2,136.4" fill="none" stroke="#707070" stroke-width="0.8" stroke-linejoin="round"/>
<polygon points="673.5,191.5 680.5,188.2 682.9,192.2 679.8,195.2" fill="none" stroke="#707070" stroke-width="0.8" stroke-linejoin="round"/>
<polygon points="643,180.4 651.7,169.4 660.4,179.7 651.2,189.8" fill="none" stroke="#707070" stroke-width="0.8" stroke-linejoin="round"/>
<polygon points="540.3,145.4 546.5,140.3 552.6,145.4 546.5,151.6" fill="none" stroke="#707070" stroke-width="0.8" stroke-linejoin="round"/>
<polygon points="493.1,156.7 498.2,151.6 504.4,156.7 498.2,165.3" fill="none" stroke="#707070" stroke-width="0.8" stroke-linejoin="round"/>
<polygon points="495.1,122.8 502.3,116.7 510.5,112.6 516.7,105.4 521.8,100.3 527,97.2 533.1,102.3 539.3,105.4 545.4,111.6 546.5,116.7 545.4,124.9 543.8,131.1 540.3,138.2 537.2,143 532.1,137.2 522.8,139.3 508.5,140.3 500.3,134.1 497.2,129" fill="none" stroke="#707070" stroke-width="0.8" stroke-linejoin="round"/>
<polygon points="469.1,145.4 479.6,137.9 487.4,143.1 483.2,152.5 490.5,161.5 497,168.2 488.4,177.8 480.5,175.2 469,169 468.2,166.4 471.7,158.5" fill="none" stroke="#707070" stroke-width="0.8" stroke-linejoin="round"/>
<polygon points="665.7,155.8 670.4,148.3 679.8,148.8 688,157 679.8,161.7 670.4,173.4 665.7,168.7" fill="none" stroke="#707070" stroke-width="0.8" stroke-linejoin="round"/>
<polygon points="608.4,190.9 614.5,177.6 620,173.4 631.7,171.1 638.8,176.9 643.5,185.1 651.7,193.3 662.2,200.4 663.4,205.1 659.9,210 650,211 640,209.4 635.1,210.6 626.9,214.1 628,223.5 622.2,229.3 615.2,223.5 618.6,212.5 614.5,202.2" fill="none" stroke="#707070" stroke-width="0.8" stroke-linejoin="round"/>
<polygon points="492.1,193 498.2,185.8 506.4,186.8 516.3,193 513.6,202.2 508.5,211.5 500.3,207.4 492.1,199.1" fill="none" stroke="#707070" stroke-width="0.8" stroke-linejoin="round"/>
<polygon points="468.2,192.8 471.3,188.4 474.3,192.8 474.5,200 471.3,205 468,200" fill="none" stroke="#707070" stroke-width="0.8" stroke-linejoin="round"/>
<polygon points="524,224.4 527.5,216.2 535,224.4 527.5,233.3" fill="none" stroke="#707070" stroke-width="0.8" stroke-linejoin="round"/>
<polygon points="510.6,235.6 518.6,231.4 525.2,235.6 519.3,239.6" fill="none" stroke="#707070" stroke-width="0.8" stroke-linejoin="round"/>
<polygon points="548.7,252.5 552.9,243.2 556.4,238.5 561.6,244.3 563.2,252.5 559.2,260.7 556.4,266.6 549.8,258.4" fill="none" stroke="#707070" stroke-width="0.8" stroke-linejoin="round"/>
<polygon points="561.6,235.6 565.5,231.4 568.6,235.6 565.1,239.6" fill="none" stroke="#707070" stroke-width="0.8" stroke-linejoin="round"/>
<polygon points="534.1,278.8 538.1,276.5 544.4,280.2 538.8,283.5" fill="none" stroke="#707070" stroke-width="0.8" stroke-linejoin="round"/>
<polygon points="571.3,280.5 576.1,276.1 582.6,281 575.2,284" fill="none" stroke="#707070" stroke-width="0.8" stroke-linejoin="round"/>
<polygon points="558.5,292.3 565.5,287.6 568.5,295.5 566.4,300.7" fill="none" stroke="#707070" stroke-width="0.8" stroke-linejoin="round"/>
<polygon points="577.6,245.8 584.6,234 587,236.4 587.5,255 584.9,266.4 580.5,255" fill="none" stroke="#707070" stroke-width="0.8" stroke-linejoin="round"/>
<polygon points="531.1,155 537.2,149.5 545.4,161.2 551.6,155 556,147.5 560,140.3 565.1,127 576.4,134.1 584.6,138.2 590.8,135.2 589.8,126.9 593.9,114.6 604.1,115.7 610.3,123.9 602,135.5 613.5,130.9 623.2,137.6 632,126.7 641.6,134.4 637.2,146.4 632,157 623.2,166.1 617,157 613.5,150.8 612.2,157 611.7,167.5 604.7,172.4 602.1,177.6 599.1,187.8 598.1,202.2 600,213.1 602.2,220 601,225 594.7,230 590.5,221.1 590,214.6 583.5,211.3 575.5,215.6 569.4,217.6 560,222 549.5,220.7 539.3,216.6 530,208.4 522.8,198.1 520.8,185.8 521.8,174.5 525.9,163.2" fill="none" stroke="#707070" stroke-width="0.8" stroke-linejoin="round"/>
<polygon points="564.2,161.2 567.3,160.1 571.4,166.3 575.5,173.5 580.7,181.7 585.8,190.9 583.7,191.5 577.6,183.7 572.5,178.6 566.3,173.5 563.2,167.3" fill="none" stroke="#707070" stroke-width="0.8" stroke-linejoin="round"/>
<polygon points="555,162.5 559.1,167.3 561.2,179.6 563.2,189.9 567.3,196.1 571,202 568.5,208.5 560,211 551.6,209.4 545.4,201.2 540.3,194 538.2,185.8 539.3,178.6 547.5,171.4 552,165.5" fill="none" stroke="#5a5af0" stroke-width="0.8" stroke-linejoin="round"/>
<polygon points="572,157.5 575.4,152.6 584.6,151.6 592.8,143.8 601.1,143.8 605.5,146.5 606,155 604,160 596.1,161.2 581.7,162.2 572.5,161.2" fill="none" stroke="#5a5af0" stroke-width="0.8" stroke-linejoin="round"/>
<polygon points="569.4,190.9 574.5,185.4 579.6,190.9 575.5,197.1" fill="none" stroke="#5a5af0" stroke-width="0.8" stroke-linejoin="round"/>
<polygon points="588.9,179.6 592.4,175.1 597.1,179.6 593,183.7" fill="none" stroke="#5a5af0" stroke-width="0.8" stroke-linejoin="round"/>
<polygon points="524.9,122.8 527.6,120.2 530.6,122.8 527.6,125.9" fill="none" stroke="#5a5af0" stroke-width="0.8" stroke-linejoin="round"/>
<polygon points="629.4,200.4 634.1,196.9 638.8,201.6 631.7,204.6" fill="none" stroke="#5a5af0" stroke-width="0.8" stroke-linejoin="round"/>
<polygon points="527,178.6 531.1,180 527,182.1" fill="none" stroke="#5a5af0" stroke-width="0.8" stroke-linejoin="round"/>
<polygon points="552,178.9 556.1,175.3 559.3,179.7 556.1,184.8" fill="none" stroke="#e8a070" stroke-width="0.8" stroke-linejoin="round"/>
<polygon points="549.1,201.7 556.1,193.6 563,201.7 556.1,209" fill="none" stroke="#e8a070" stroke-width="0.8" stroke-linejoin="round"/>
<ellipse cx="480.1" cy="168.2" rx="1.2" ry="1.2" fill="none" stroke="#5a5af0" stroke-width="0.8"/>
<ellipse cx="584.8" cy="202.2" rx="1.4" ry="1" fill="none" stroke="#5a5af0" stroke-width="0.8"/>
<ellipse cx="622.7" cy="156.8" rx="1.2" ry="1.2" fill="none" stroke="#5a5af0" stroke-width="0.8"/>
<ellipse cx="556.4" cy="256" rx="0.8" ry="2" fill="none" stroke="#5a5af0" stroke-width="0.8"/>
<rect x="43.0" y="45.4" width="283.0" height="269.0" fill="none" stroke="#858585" stroke-width="1"/>
<line x1="75.4" y1="314.4" x2="75.4" y2="307.59999999999997" stroke="#858585"/><line x1="75.4" y1="45.4" x2="75.4" y2="52.199999999999996" stroke="#858585"/>
<line x1="163.6" y1="314.4" x2="163.6" y2="307.59999999999997" stroke="#858585"/><line x1="163.6" y1="45.4" x2="163.6" y2="52.199999999999996" stroke="#858585"/>
<line x1="251.8" y1="314.4" x2="251.8" y2="307.59999999999997" stroke="#858585"/><line x1="251.8" y1="45.4" x2="251.8" y2="52.199999999999996" stroke="#858585"/>
<line x1="57.760000000000005" y1="314.4" x2="57.760000000000005" y2="311.09999999999997" stroke="#858585"/><line x1="57.760000000000005" y1="45.4" x2="57.760000000000005" y2="48.699999999999996" stroke="#858585"/>
<line x1="93.04" y1="314.4" x2="93.04" y2="311.09999999999997" stroke="#858585"/><line x1="93.04" y1="45.4" x2="93.04" y2="48.699999999999996" stroke="#858585"/>
<line x1="110.68" y1="314.4" x2="110.68" y2="311.09999999999997" stroke="#858585"/><line x1="110.68" y1="45.4" x2="110.68" y2="48.699999999999996" stroke="#858585"/>
<line x1="128.32" y1="314.4" x2="128.32" y2="311.09999999999997" stroke="#858585"/><line x1="128.32" y1="45.4" x2="128.32" y2="48.699999999999996" stroke="#858585"/>
<line x1="145.96" y1="314.4" x2="145.96" y2="311.09999999999997" stroke="#858585"/><line x1="145.96" y1="45.4" x2="145.96" y2="48.699999999999996" stroke="#858585"/>
<line x1="181.24" y1="314.4" x2="181.24" y2="311.09999999999997" stroke="#858585"/><line x1="181.24" y1="45.4" x2="181.24" y2="48.699999999999996" stroke="#858585"/>
<line x1="198.88" y1="314.4" x2="198.88" y2="311.09999999999997" stroke="#858585"/><line x1="198.88" y1="45.4" x2="198.88" y2="48.699999999999996" stroke="#858585"/>
<line x1="216.52" y1="314.4" x2="216.52" y2="311.09999999999997" stroke="#858585"/><line x1="216.52" y1="45.4" x2="216.52" y2="48.699999999999996" stroke="#858585"/>
<line x1="234.16" y1="314.4" x2="234.16" y2="311.09999999999997" stroke="#858585"/><line x1="234.16" y1="45.4" x2="234.16" y2="48.699999999999996" stroke="#858585"/>
<line x1="269.44000000000005" y1="314.4" x2="269.44000000000005" y2="311.09999999999997" stroke="#858585"/><line x1="269.44000000000005" y1="45.4" x2="269.44000000000005" y2="48.699999999999996" stroke="#858585"/>
<line x1="287.08000000000004" y1="314.4" x2="287.08000000000004" y2="311.09999999999997" stroke="#858585"/><line x1="287.08000000000004" y1="45.4" x2="287.08000000000004" y2="48.699999999999996" stroke="#858585"/>
<line x1="304.72" y1="314.4" x2="304.72" y2="311.09999999999997" stroke="#858585"/><line x1="304.72" y1="45.4" x2="304.72" y2="48.699999999999996" stroke="#858585"/>
<line x1="322.36" y1="314.4" x2="322.36" y2="311.09999999999997" stroke="#858585"/><line x1="322.36" y1="45.4" x2="322.36" y2="48.699999999999996" stroke="#858585"/>
<line x1="43.0" y1="73.0" x2="49.8" y2="73.0" stroke="#858585"/><line x1="326.0" y1="73.0" x2="319.2" y2="73.0" stroke="#858585"/>
<line x1="43.0" y1="118.46000000000001" x2="49.8" y2="118.46000000000001" stroke="#858585"/><line x1="326.0" y1="118.46000000000001" x2="319.2" y2="118.46000000000001" stroke="#858585"/>
<line x1="43.0" y1="163.92000000000002" x2="49.8" y2="163.92000000000002" stroke="#858585"/><line x1="326.0" y1="163.92000000000002" x2="319.2" y2="163.92000000000002" stroke="#858585"/>
<line x1="43.0" y1="209.38" x2="49.8" y2="209.38" stroke="#858585"/><line x1="326.0" y1="209.38" x2="319.2" y2="209.38" stroke="#858585"/>
<line x1="43.0" y1="254.84" x2="49.8" y2="254.84" stroke="#858585"/><line x1="326.0" y1="254.84" x2="319.2" y2="254.84" stroke="#858585"/>
<line x1="43.0" y1="300.3" x2="49.8" y2="300.3" stroke="#858585"/><line x1="326.0" y1="300.3" x2="319.2" y2="300.3" stroke="#858585"/>
<line x1="43.0" y1="50.269999999999996" x2="46.3" y2="50.269999999999996" stroke="#858585"/><line x1="326.0" y1="50.269999999999996" x2="322.7" y2="50.269999999999996" stroke="#858585"/>
<line x1="43.0" y1="61.635" x2="46.3" y2="61.635" stroke="#858585"/><line x1="326.0" y1="61.635" x2="322.7" y2="61.635" stroke="#858585"/>
<line x1="43.0" y1="84.365" x2="46.3" y2="84.365" stroke="#858585"/><line x1="326.0" y1="84.365" x2="322.7" y2="84.365" stroke="#858585"/>
<line x1="43.0" y1="95.73" x2="46.3" y2="95.73" stroke="#858585"/><line x1="326.0" y1="95.73" x2="322.7" y2="95.73" stroke="#858585"/>
<line x1="43.0" y1="107.095" x2="46.3" y2="107.095" stroke="#858585"/><line x1="326.0" y1="107.095" x2="322.7" y2="107.095" stroke="#858585"/>
<line x1="43.0" y1="129.825" x2="46.3" y2="129.825" stroke="#858585"/><line x1="326.0" y1="129.825" x2="322.7" y2="129.825" stroke="#858585"/>
<line x1="43.0" y1="141.19" x2="46.3" y2="141.19" stroke="#858585"/><line x1="326.0" y1="141.19" x2="322.7" y2="141.19" stroke="#858585"/>
<line x1="43.0" y1="152.555" x2="46.3" y2="152.555" stroke="#858585"/><line x1="326.0" y1="152.555" x2="322.7" y2="152.555" stroke="#858585"/>
<line x1="43.0" y1="175.285" x2="46.3" y2="175.285" stroke="#858585"/><line x1="326.0" y1="175.285" x2="322.7" y2="175.285" stroke="#858585"/>
<line x1="43.0" y1="186.65" x2="46.3" y2="186.65" stroke="#858585"/><line x1="326.0" y1="186.65" x2="322.7" y2="186.65" stroke="#858585"/>
<line x1="43.0" y1="198.015" x2="46.3" y2="198.015" stroke="#858585"/><line x1="326.0" y1="198.015" x2="322.7" y2="198.015" stroke="#858585"/>
<line x1="43.0" y1="220.745" x2="46.3" y2="220.745" stroke="#858585"/><line x1="326.0" y1="220.745" x2="322.7" y2="220.745" stroke="#858585"/>
<line x1="43.0" y1="232.11" x2="46.3" y2="232.11" stroke="#858585"/><line x1="326.0" y1="232.11" x2="322.7" y2="232.11" stroke="#858585"/>
<line x1="43.0" y1="243.475" x2="46.3" y2="243.475" stroke="#858585"/><line x1="326.0" y1="243.475" x2="322.7" y2="243.475" stroke="#858585"/>
<line x1="43.0" y1="266.20500000000004" x2="46.3" y2="266.20500000000004" stroke="#858585"/><line x1="326.0" y1="266.20500000000004" x2="322.7" y2="266.20500000000004" stroke="#858585"/>
<line x1="43.0" y1="277.57" x2="46.3" y2="277.57" stroke="#858585"/><line x1="326.0" y1="277.57" x2="322.7" y2="277.57" stroke="#858585"/>
<line x1="43.0" y1="288.935" x2="46.3" y2="288.935" stroke="#858585"/><line x1="326.0" y1="288.935" x2="322.7" y2="288.935" stroke="#858585"/>
<line x1="43.0" y1="311.66499999999996" x2="46.3" y2="311.66499999999996" stroke="#858585"/><line x1="326.0" y1="311.66499999999996" x2="322.7" y2="311.66499999999996" stroke="#858585"/>
<text x="75.4" y="329.09999999999997" font-size="11.5" text-anchor="middle">309.0</text>
<text x="163.6" y="329.09999999999997" font-size="11.5" text-anchor="middle">308.5</text>
<text x="251.8" y="329.09999999999997" font-size="11.5" text-anchor="middle">308.0</text>
<text x="40.0" y="77.1" font-size="11.5" text-anchor="end">41.8</text>
<text x="40.0" y="122.56" font-size="11.5" text-anchor="end">41.6</text>
<text x="40.0" y="168.02" font-size="11.5" text-anchor="end">41.4</text>
<text x="40.0" y="213.48" font-size="11.5" text-anchor="end">41.2</text>
<text x="40.0" y="258.94" font-size="11.5" text-anchor="end">41.0</text>
<text x="40.0" y="304.40000000000003" font-size="11.5" text-anchor="end">40.8</text>
<rect x="403.6" y="45.4" width="295.79999999999995" height="269.0" fill="none" stroke="#858585" stroke-width="1"/>
<line x1="419.7" y1="314.4" x2="419.7" y2="309.09999999999997" stroke="#858585"/><line x1="419.7" y1="45.4" x2="419.7" y2="50.699999999999996" stroke="#858585"/>
<line x1="457.8" y1="314.4" x2="457.8" y2="309.09999999999997" stroke="#858585"/><line x1="457.8" y1="45.4" x2="457.8" y2="50.699999999999996" stroke="#858585"/>
<line x1="495.9" y1="314.4" x2="495.9" y2="309.09999999999997" stroke="#858585"/><line x1="495.9" y1="45.4" x2="495.9" y2="50.699999999999996" stroke="#858585"/>
<line x1="534.0" y1="314.4" x2="534.0" y2="309.09999999999997" stroke="#858585"/><line x1="534.0" y1="45.4" x2="534.0" y2="50.699999999999996" stroke="#858585"/>
<line x1="572.1" y1="314.4" x2="572.1" y2="309.09999999999997" stroke="#858585"/><line x1="572.1" y1="45.4" x2="572.1" y2="50.699999999999996" stroke="#858585"/>
<line x1="610.2" y1="314.4" x2="610.2" y2="309.09999999999997" stroke="#858585"/><line x1="610.2" y1="45.4" x2="610.2" y2="50.699999999999996" stroke="#858585"/>
<line x1="648.3" y1="314.4" x2="648.3" y2="309.09999999999997" stroke="#858585"/><line x1="648.3" y1="45.4" x2="648.3" y2="50.699999999999996" stroke="#858585"/>
<line x1="686.4" y1="314.4" x2="686.4" y2="309.09999999999997" stroke="#858585"/><line x1="686.4" y1="45.4" x2="686.4" y2="50.699999999999996" stroke="#858585"/>
<line x1="410.175" y1="314.4" x2="410.175" y2="311.7" stroke="#858585"/><line x1="410.175" y1="45.4" x2="410.175" y2="48.1" stroke="#858585"/>
<line x1="429.22499999999997" y1="314.4" x2="429.22499999999997" y2="311.7" stroke="#858585"/><line x1="429.22499999999997" y1="45.4" x2="429.22499999999997" y2="48.1" stroke="#858585"/>
<line x1="438.75" y1="314.4" x2="438.75" y2="311.7" stroke="#858585"/><line x1="438.75" y1="45.4" x2="438.75" y2="48.1" stroke="#858585"/>
<line x1="448.275" y1="314.4" x2="448.275" y2="311.7" stroke="#858585"/><line x1="448.275" y1="45.4" x2="448.275" y2="48.1" stroke="#858585"/>
<line x1="467.325" y1="314.4" x2="467.325" y2="311.7" stroke="#858585"/><line x1="467.325" y1="45.4" x2="467.325" y2="48.1" stroke="#858585"/>
<line x1="476.85" y1="314.4" x2="476.85" y2="311.7" stroke="#858585"/><line x1="476.85" y1="45.4" x2="476.85" y2="48.1" stroke="#858585"/>
<line x1="486.375" y1="314.4" x2="486.375" y2="311.7" stroke="#858585"/><line x1="486.375" y1="45.4" x2="486.375" y2="48.1" stroke="#858585"/>
<line x1="505.425" y1="314.4" x2="505.425" y2="311.7" stroke="#858585"/><line x1="505.425" y1="45.4" x2="505.425" y2="48.1" stroke="#858585"/>
<line x1="514.95" y1="314.4" x2="514.95" y2="311.7" stroke="#858585"/><line x1="514.95" y1="45.4" x2="514.95" y2="48.1" stroke="#858585"/>
<line x1="524.475" y1="314.4" x2="524.475" y2="311.7" stroke="#858585"/><line x1="524.475" y1="45.4" x2="524.475" y2="48.1" stroke="#858585"/>
<line x1="543.525" y1="314.4" x2="543.525" y2="311.7" stroke="#858585"/><line x1="543.525" y1="45.4" x2="543.525" y2="48.1" stroke="#858585"/>
<line x1="553.05" y1="314.4" x2="553.05" y2="311.7" stroke="#858585"/><line x1="553.05" y1="45.4" x2="553.05" y2="48.1" stroke="#858585"/>
<line x1="562.575" y1="314.4" x2="562.575" y2="311.7" stroke="#858585"/><line x1="562.575" y1="45.4" x2="562.575" y2="48.1" stroke="#858585"/>
<line x1="581.625" y1="314.4" x2="581.625" y2="311.7" stroke="#858585"/><line x1="581.625" y1="45.4" x2="581.625" y2="48.1" stroke="#858585"/>
<line x1="591.15" y1="314.4" x2="591.15" y2="311.7" stroke="#858585"/><line x1="591.15" y1="45.4" x2="591.15" y2="48.1" stroke="#858585"/>
<line x1="600.675" y1="314.4" x2="600.675" y2="311.7" stroke="#858585"/><line x1="600.675" y1="45.4" x2="600.675" y2="48.1" stroke="#858585"/>
<line x1="619.725" y1="314.4" x2="619.725" y2="311.7" stroke="#858585"/><line x1="619.725" y1="45.4" x2="619.725" y2="48.1" stroke="#858585"/>
<line x1="629.25" y1="314.4" x2="629.25" y2="311.7" stroke="#858585"/><line x1="629.25" y1="45.4" x2="629.25" y2="48.1" stroke="#858585"/>
<line x1="638.775" y1="314.4" x2="638.775" y2="311.7" stroke="#858585"/><line x1="638.775" y1="45.4" x2="638.775" y2="48.1" stroke="#858585"/>
<line x1="657.825" y1="314.4" x2="657.825" y2="311.7" stroke="#858585"/><line x1="657.825" y1="45.4" x2="657.825" y2="48.1" stroke="#858585"/>
<line x1="667.35" y1="314.4" x2="667.35" y2="311.7" stroke="#858585"/><line x1="667.35" y1="45.4" x2="667.35" y2="48.1" stroke="#858585"/>
<line x1="676.875" y1="314.4" x2="676.875" y2="311.7" stroke="#858585"/><line x1="676.875" y1="45.4" x2="676.875" y2="48.1" stroke="#858585"/>
<line x1="695.925" y1="314.4" x2="695.925" y2="311.7" stroke="#858585"/><line x1="695.925" y1="45.4" x2="695.925" y2="48.1" stroke="#858585"/>
<line x1="403.6" y1="69.4" x2="408.90000000000003" y2="69.4" stroke="#858585"/><line x1="699.4" y1="69.4" x2="694.1" y2="69.4" stroke="#858585"/>
<line x1="403.6" y1="113.72" x2="408.90000000000003" y2="113.72" stroke="#858585"/><line x1="699.4" y1="113.72" x2="694.1" y2="113.72" stroke="#858585"/>
<line x1="403.6" y1="158.04000000000002" x2="408.90000000000003" y2="158.04000000000002" stroke="#858585"/><line x1="699.4" y1="158.04000000000002" x2="694.1" y2="158.04000000000002" stroke="#858585"/>
<line x1="403.6" y1="202.36" x2="408.90000000000003" y2="202.36" stroke="#858585"/><line x1="699.4" y1="202.36" x2="694.1" y2="202.36" stroke="#858585"/>
<line x1="403.6" y1="246.68" x2="408.90000000000003" y2="246.68" stroke="#858585"/><line x1="699.4" y1="246.68" x2="694.1" y2="246.68" stroke="#858585"/>
<line x1="403.6" y1="291.0" x2="408.90000000000003" y2="291.0" stroke="#858585"/><line x1="699.4" y1="291.0" x2="694.1" y2="291.0" stroke="#858585"/>
<line x1="403.6" y1="47.24000000000001" x2="406.3" y2="47.24000000000001" stroke="#858585"/><line x1="699.4" y1="47.24000000000001" x2="696.6999999999999" y2="47.24000000000001" stroke="#858585"/>
<line x1="403.6" y1="58.32000000000001" x2="406.3" y2="58.32000000000001" stroke="#858585"/><line x1="699.4" y1="58.32000000000001" x2="696.6999999999999" y2="58.32000000000001" stroke="#858585"/>
<line x1="403.6" y1="80.48" x2="406.3" y2="80.48" stroke="#858585"/><line x1="699.4" y1="80.48" x2="696.6999999999999" y2="80.48" stroke="#858585"/>
<line x1="403.6" y1="91.56" x2="406.3" y2="91.56" stroke="#858585"/><line x1="699.4" y1="91.56" x2="696.6999999999999" y2="91.56" stroke="#858585"/>
<line x1="403.6" y1="102.64000000000001" x2="406.3" y2="102.64000000000001" stroke="#858585"/><line x1="699.4" y1="102.64000000000001" x2="696.6999999999999" y2="102.64000000000001" stroke="#858585"/>
<line x1="403.6" y1="124.80000000000001" x2="406.3" y2="124.80000000000001" stroke="#858585"/><line x1="699.4" y1="124.80000000000001" x2="696.6999999999999" y2="124.80000000000001" stroke="#858585"/>
<line x1="403.6" y1="135.88" x2="406.3" y2="135.88" stroke="#858585"/><line x1="699.4" y1="135.88" x2="696.6999999999999" y2="135.88" stroke="#858585"/>
<line x1="403.6" y1="146.96" x2="406.3" y2="146.96" stroke="#858585"/><line x1="699.4" y1="146.96" x2="696.6999999999999" y2="146.96" stroke="#858585"/>
<line x1="403.6" y1="169.12" x2="406.3" y2="169.12" stroke="#858585"/><line x1="699.4" y1="169.12" x2="696.6999999999999" y2="169.12" stroke="#858585"/>
<line x1="403.6" y1="180.2" x2="406.3" y2="180.2" stroke="#858585"/><line x1="699.4" y1="180.2" x2="696.6999999999999" y2="180.2" stroke="#858585"/>
<line x1="403.6" y1="191.28" x2="406.3" y2="191.28" stroke="#858585"/><line x1="699.4" y1="191.28" x2="696.6999999999999" y2="191.28" stroke="#858585"/>
<line x1="403.6" y1="213.44" x2="406.3" y2="213.44" stroke="#858585"/><line x1="699.4" y1="213.44" x2="696.6999999999999" y2="213.44" stroke="#858585"/>
<line x1="403.6" y1="224.52" x2="406.3" y2="224.52" stroke="#858585"/><line x1="699.4" y1="224.52" x2="696.6999999999999" y2="224.52" stroke="#858585"/>
<line x1="403.6" y1="235.6" x2="406.3" y2="235.6" stroke="#858585"/><line x1="699.4" y1="235.6" x2="696.6999999999999" y2="235.6" stroke="#858585"/>
<line x1="403.6" y1="257.76" x2="406.3" y2="257.76" stroke="#858585"/><line x1="699.4" y1="257.76" x2="696.6999999999999" y2="257.76" stroke="#858585"/>
<line x1="403.6" y1="268.84000000000003" x2="406.3" y2="268.84000000000003" stroke="#858585"/><line x1="699.4" y1="268.84000000000003" x2="696.6999999999999" y2="268.84000000000003" stroke="#858585"/>
<line x1="403.6" y1="279.92" x2="406.3" y2="279.92" stroke="#858585"/><line x1="699.4" y1="279.92" x2="696.6999999999999" y2="279.92" stroke="#858585"/>
<line x1="403.6" y1="302.08000000000004" x2="406.3" y2="302.08000000000004" stroke="#858585"/><line x1="699.4" y1="302.08000000000004" x2="696.6999999999999" y2="302.08000000000004" stroke="#858585"/>
<line x1="403.6" y1="313.15999999999997" x2="406.3" y2="313.15999999999997" stroke="#858585"/><line x1="699.4" y1="313.15999999999997" x2="696.6999999999999" y2="313.15999999999997" stroke="#858585"/>
<text x="419.7" y="329.09999999999997" font-size="11.5" text-anchor="middle">309.0</text>
<text x="457.8" y="329.09999999999997" font-size="11.5" text-anchor="middle">308.8</text>
<text x="495.9" y="329.09999999999997" font-size="11.5" text-anchor="middle">308.6</text>
<text x="534.0" y="329.09999999999997" font-size="11.5" text-anchor="middle">308.4</text>
<text x="572.1" y="329.09999999999997" font-size="11.5" text-anchor="middle">308.2</text>
<text x="610.2" y="329.09999999999997" font-size="11.5" text-anchor="middle">308.0</text>
<text x="648.3" y="329.09999999999997" font-size="11.5" text-anchor="middle">307.8</text>
<text x="686.4" y="329.09999999999997" font-size="11.5" text-anchor="middle">307.6</text>
<text x="400.6" y="73.5" font-size="11.5" text-anchor="end">41.8</text>
<text x="400.6" y="117.82" font-size="11.5" text-anchor="end">41.6</text>
<text x="400.6" y="162.14000000000001" font-size="11.5" text-anchor="end">41.4</text>
<text x="400.6" y="206.46" font-size="11.5" text-anchor="end">41.2</text>
<text x="400.6" y="250.78" font-size="11.5" text-anchor="end">41.0</text>
<text x="400.6" y="295.1" font-size="11.5" text-anchor="end">40.8</text>
<text x="185" y="340.6" font-size="11.5" text-anchor="middle">RA</text>
<text x="551.5" y="340.6" font-size="11.5" text-anchor="middle">RA</text>
<text transform="translate(8.6,179.2) rotate(-90)" font-size="11.5" text-anchor="middle">DEC</text>
<text transform="translate(369.7,179) rotate(-90)" font-size="11.5" text-anchor="middle">DEC</text>
</svg>
</body></html>
